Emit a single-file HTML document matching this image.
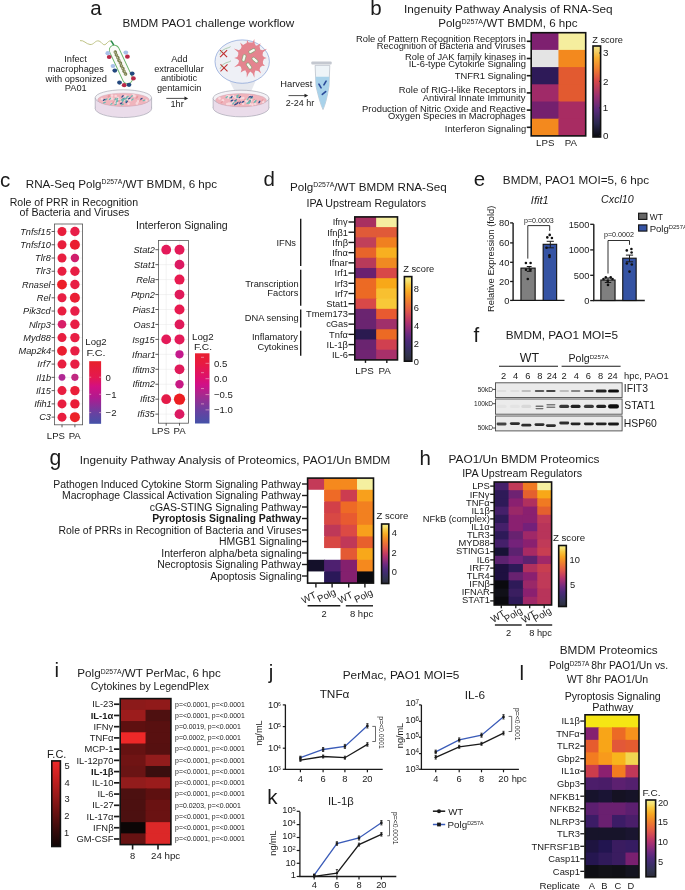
<!DOCTYPE html>
<html><head><meta charset="utf-8"><style>
html,body{margin:0;padding:0;background:#fff;}
svg{display:block;will-change:transform;}
text{font-family:"Liberation Sans",sans-serif;fill:#1a1a1a;}
</style></head><body>
<svg width="685" height="890" viewBox="0 0 685 890">
<defs><linearGradient id="ginf" x1="0" y1="1" x2="0" y2="0"><stop offset="0.000" stop-color="#000004"/><stop offset="0.100" stop-color="#160b39"/><stop offset="0.200" stop-color="#420a68"/><stop offset="0.300" stop-color="#6a176e"/><stop offset="0.400" stop-color="#932667"/><stop offset="0.500" stop-color="#bc3754"/><stop offset="0.600" stop-color="#dd513a"/><stop offset="0.700" stop-color="#f37819"/><stop offset="0.800" stop-color="#fca50a"/><stop offset="0.900" stop-color="#f6d746"/><stop offset="1.000" stop-color="#fcffa4"/></linearGradient><linearGradient id="gl" x1="0" y1="1" x2="0" y2="0"><stop offset="0.000" stop-color="#2c2c3a"/><stop offset="0.080" stop-color="#323450"/><stop offset="0.160" stop-color="#3c2e6a"/><stop offset="0.240" stop-color="#4e2a7a"/><stop offset="0.320" stop-color="#6e2a80"/><stop offset="0.400" stop-color="#962e78"/><stop offset="0.450" stop-color="#ae3270"/><stop offset="0.500" stop-color="#c23c62"/><stop offset="0.550" stop-color="#d24a56"/><stop offset="0.600" stop-color="#e05a48"/><stop offset="0.670" stop-color="#ea7038"/><stop offset="0.750" stop-color="#f28c28"/><stop offset="0.820" stop-color="#f8a822"/><stop offset="0.900" stop-color="#f8c840"/><stop offset="0.950" stop-color="#f6e070"/><stop offset="1.000" stop-color="#f5f08a"/></linearGradient><linearGradient id="gb" x1="0" y1="1" x2="0" y2="0"><stop offset="0.000" stop-color="#0a0a10"/><stop offset="0.150" stop-color="#2a2850"/><stop offset="0.300" stop-color="#5a2a7a"/><stop offset="0.450" stop-color="#9a3070"/><stop offset="0.620" stop-color="#d84848"/><stop offset="0.750" stop-color="#f08030"/><stop offset="0.870" stop-color="#f8b030"/><stop offset="1.000" stop-color="#f0e890"/></linearGradient><linearGradient id="gi" x1="0" y1="1" x2="0" y2="0"><stop offset="0.000" stop-color="#100606"/><stop offset="0.200" stop-color="#3a0c0c"/><stop offset="0.400" stop-color="#6a1212"/><stop offset="0.600" stop-color="#9a1a1a"/><stop offset="0.800" stop-color="#c82020"/><stop offset="1.000" stop-color="#ee2a2a"/></linearGradient><linearGradient id="gc1" x1="0" y1="1" x2="0" y2="0"><stop offset="0.000" stop-color="#4452a8"/><stop offset="0.180" stop-color="#6a40a0"/><stop offset="0.420" stop-color="#b01a90"/><stop offset="0.600" stop-color="#d41080"/><stop offset="0.740" stop-color="#e41850"/><stop offset="1.000" stop-color="#e8202a"/></linearGradient><linearGradient id="gc2" x1="0" y1="1" x2="0" y2="0"><stop offset="0.000" stop-color="#4452a8"/><stop offset="0.190" stop-color="#6a40a0"/><stop offset="0.410" stop-color="#a8288e"/><stop offset="0.550" stop-color="#d01088"/><stop offset="0.640" stop-color="#dc1070"/><stop offset="0.860" stop-color="#e81a40"/><stop offset="1.000" stop-color="#e82030"/></linearGradient><filter id="blur1" x="-50%" y="-50%" width="200%" height="200%"><feGaussianBlur stdDeviation="0.7"/></filter><filter id="blur2" x="-50%" y="-50%" width="200%" height="200%"><feGaussianBlur stdDeviation="0.35"/></filter></defs>
<rect width="685" height="890" fill="#fff"/>
<text x="90.28" y="14.90" font-size="20.50">a</text>
<text x="370.17" y="15.00" font-size="20.50">b</text>
<text x="-0.02" y="187.00" font-size="20.50">c</text>
<text x="263.48" y="186.40" font-size="20.50">d</text>
<text x="473.68" y="185.80" font-size="20.50">e</text>
<text x="473.49" y="341.50" font-size="20.50">f</text>
<text x="49.45" y="464.90" font-size="21.20">g</text>
<text x="419.46" y="465.00" font-size="20.50">h</text>
<text x="54.47" y="676.50" font-size="20.50">i</text>
<text x="268.71" y="679.00" font-size="20.50">j</text>
<text x="267.17" y="804.10" font-size="20.50">k</text>
<text x="519.57" y="679.70" font-size="20.50">l</text>
<text x="122.56" y="27.10" font-size="11.72">BMDM PAO1 challenge workflow</text>
<text x="64.20" y="62.00" font-size="9.25">Infect</text>
<text x="47.73" y="72.00" font-size="9.25">macrophages</text>
<text x="45.61" y="81.90" font-size="9.25">with opsonized</text>
<text x="64.78" y="91.30" font-size="9.25">PA01</text>
<text x="171.21" y="61.90" font-size="9.20">Add</text>
<text x="154.19" y="71.50" font-size="9.20">extracellular</text>
<text x="160.88" y="81.40" font-size="9.20">antibiotic</text>
<text x="156.97" y="91.30" font-size="9.20">gentamicin</text>
<text x="170.50" y="107.40" font-size="9.20">1hr</text>
<line x1="166.30" y1="98.40" x2="185.00" y2="98.40" stroke="#222" stroke-width="0.8"/>
<path d="M184.5,96.6 L188.2,98.4 L184.5,100.2 Z" fill="#222" stroke="none" stroke-width="0"/>
<text x="280.25" y="87.30" font-size="9.32">Harvest</text>
<text x="285.75" y="105.80" font-size="9.03">2-24 hr</text>
<line x1="288.50" y1="95.60" x2="305.00" y2="95.60" stroke="#222" stroke-width="0.8"/>
<path d="M304.5,93.8 L308.2,95.6 L304.5,97.4 Z" fill="#222" stroke="none" stroke-width="0"/>
<ellipse cx="123.4" cy="108.5" rx="28.2" ry="9" fill="#eadcea" stroke="#9a9aa8" stroke-width="0.6"/>
<rect x="95.2" y="97.8" width="56.4" height="10.700000000000003" fill="#eadcea"/>
<line x1="95.20" y1="97.80" x2="95.20" y2="108.50" stroke="#9a9aa8" stroke-width="0.6"/>
<line x1="151.60" y1="97.80" x2="151.60" y2="108.50" stroke="#9a9aa8" stroke-width="0.6"/>
<ellipse cx="123.4" cy="97.8" rx="28.2" ry="8" fill="#f4f2f6" stroke="#9a9aa8" stroke-width="0.6"/>
<ellipse cx="123.4" cy="99.8" rx="25.7" ry="6.6" fill="#f0b4bc" stroke="#c8a0b0" stroke-width="0.4"/>
<circle cx="130.2" cy="100.3" r="1.3" fill="#f8d8dc"/>
<circle cx="116.8" cy="100.7" r="1.3" fill="#f8d8dc"/>
<circle cx="127.2" cy="99.2" r="1.3" fill="#f8d8dc"/>
<circle cx="109.8" cy="99.1" r="1.3" fill="#f8d8dc"/>
<circle cx="129.2" cy="98.1" r="1.3" fill="#f8d8dc"/>
<circle cx="116.1" cy="102.4" r="1.3" fill="#f8d8dc"/>
<circle cx="123.4" cy="100.0" r="1.3" fill="#f8d8dc"/>
<circle cx="116.8" cy="100.4" r="1.3" fill="#f8d8dc"/>
<circle cx="118.2" cy="99.0" r="1.3" fill="#f8d8dc"/>
<circle cx="116.9" cy="103.0" r="1.3" fill="#f8d8dc"/>
<circle cx="129.5" cy="98.9" r="1.3" fill="#f8d8dc"/>
<circle cx="136.9" cy="103.4" r="1.3" fill="#f8d8dc"/>
<circle cx="146.3" cy="100.5" r="1.3" fill="#f8d8dc"/>
<circle cx="112.2" cy="98.6" r="1.3" fill="#f8d8dc"/>
<circle cx="134.5" cy="95.9" r="1.3" fill="#f8d8dc"/>
<circle cx="111.4" cy="103.7" r="1.3" fill="#f8d8dc"/>
<circle cx="128.5" cy="103.7" r="1.3" fill="#f8d8dc"/>
<circle cx="101.9" cy="99.0" r="1.3" fill="#f8d8dc"/>
<circle cx="117.3" cy="102.8" r="1.3" fill="#f8d8dc"/>
<circle cx="125.5" cy="96.1" r="1.3" fill="#f8d8dc"/>
<circle cx="115.7" cy="96.0" r="1.3" fill="#f8d8dc"/>
<circle cx="112.0" cy="95.6" r="1.3" fill="#f8d8dc"/>
<circle cx="103.7" cy="100.2" r="1.3" fill="#f8d8dc"/>
<circle cx="120.4" cy="100.5" r="1.3" fill="#f8d8dc"/>
<circle cx="123.7" cy="97.6" r="1.3" fill="#f8d8dc"/>
<circle cx="133.3" cy="95.3" r="1.3" fill="#f8d8dc"/>
<circle cx="117.9" cy="98.0" r="1.3" fill="#f8d8dc"/>
<circle cx="115.5" cy="102.6" r="1.3" fill="#f8d8dc"/>
<circle cx="138.1" cy="101.4" r="1.3" fill="#f8d8dc"/>
<circle cx="110.8" cy="98.5" r="1.3" fill="#f8d8dc"/>
<ellipse cx="126.0" cy="101.2" rx="1.6" ry="0.7" transform="rotate(-59 126.0 101.2)" fill="#6ab8b0"/>
<ellipse cx="116.8" cy="101.7" rx="1.6" ry="0.7" transform="rotate(-40 116.8 101.7)" fill="#6ab8b0"/>
<ellipse cx="125.9" cy="98.7" rx="1.6" ry="0.7" transform="rotate(-20 125.9 98.7)" fill="#6ab8b0"/>
<ellipse cx="141.3" cy="98.9" rx="1.6" ry="0.7" transform="rotate(-38 141.3 98.9)" fill="#2a4a8a"/>
<ellipse cx="132.4" cy="99.6" rx="1.6" ry="0.7" transform="rotate(-42 132.4 99.6)" fill="#6ab8b0"/>
<ellipse cx="123.4" cy="98.7" rx="1.6" ry="0.7" transform="rotate(-42 123.4 98.7)" fill="#2a4a8a"/>
<ellipse cx="144.0" cy="100.4" rx="1.6" ry="0.7" transform="rotate(-22 144.0 100.4)" fill="#6ab8b0"/>
<ellipse cx="123.1" cy="99.7" rx="1.6" ry="0.7" transform="rotate(-57 123.1 99.7)" fill="#6ab8b0"/>
<ellipse cx="119.2" cy="101.0" rx="1.6" ry="0.7" transform="rotate(-24 119.2 101.0)" fill="#e89aa0"/>
<ellipse cx="127.4" cy="96.9" rx="1.6" ry="0.7" transform="rotate(-32 127.4 96.9)" fill="#6ab8b0"/>
<ellipse cx="104.4" cy="102.6" rx="1.6" ry="0.7" transform="rotate(-22 104.4 102.6)" fill="#6ab8b0"/>
<ellipse cx="140.4" cy="100.6" rx="1.6" ry="0.7" transform="rotate(-46 140.4 100.6)" fill="#e89aa0"/>
<ellipse cx="108.7" cy="96.0" rx="1.6" ry="0.7" transform="rotate(-57 108.7 96.0)" fill="#e89aa0"/>
<ellipse cx="129.4" cy="98.4" rx="1.6" ry="0.7" transform="rotate(-30 129.4 98.4)" fill="#2a4a8a"/>
<ellipse cx="131.7" cy="96.3" rx="1.6" ry="0.7" transform="rotate(-45 131.7 96.3)" fill="#6ab8b0"/>
<ellipse cx="115.7" cy="104.3" rx="1.6" ry="0.7" transform="rotate(-29 115.7 104.3)" fill="#6ab8b0"/>
<ellipse cx="117.1" cy="100.9" rx="1.6" ry="0.7" transform="rotate(-39 117.1 100.9)" fill="#6ab8b0"/>
<ellipse cx="109.1" cy="96.5" rx="1.6" ry="0.7" transform="rotate(-43 109.1 96.5)" fill="#e89aa0"/>
<ellipse cx="122.5" cy="96.4" rx="1.6" ry="0.7" transform="rotate(-46 122.5 96.4)" fill="#2a4a8a"/>
<ellipse cx="137.2" cy="96.7" rx="1.6" ry="0.7" transform="rotate(-48 137.2 96.7)" fill="#e89aa0"/>
<ellipse cx="124.4" cy="99.0" rx="1.6" ry="0.7" transform="rotate(-47 124.4 99.0)" fill="#6ab8b0"/>
<ellipse cx="106.2" cy="99.4" rx="1.6" ry="0.7" transform="rotate(-40 106.2 99.4)" fill="#6ab8b0"/>
<ellipse cx="109.9" cy="98.9" rx="1.6" ry="0.7" transform="rotate(-46 109.9 98.9)" fill="#6ab8b0"/>
<ellipse cx="121.2" cy="103.3" rx="1.6" ry="0.7" transform="rotate(-25 121.2 103.3)" fill="#2a4a8a"/>
<ellipse cx="123.0" cy="100.8" rx="1.6" ry="0.7" transform="rotate(-57 123.0 100.8)" fill="#6ab8b0"/>
<ellipse cx="126.8" cy="101.9" rx="1.6" ry="0.7" transform="rotate(-52 126.8 101.9)" fill="#2a4a8a"/>
<ellipse cx="117.2" cy="99.2" rx="1.6" ry="0.7" transform="rotate(-57 117.2 99.2)" fill="#6ab8b0"/>
<ellipse cx="115.4" cy="99.2" rx="1.6" ry="0.7" transform="rotate(-55 115.4 99.2)" fill="#6ab8b0"/>
<ellipse cx="136.7" cy="97.8" rx="1.6" ry="0.7" transform="rotate(-29 136.7 97.8)" fill="#e89aa0"/>
<ellipse cx="122.5" cy="104.4" rx="1.6" ry="0.7" transform="rotate(-25 122.5 104.4)" fill="#6ab8b0"/>
<ellipse cx="111.5" cy="103.8" rx="1.6" ry="0.7" transform="rotate(-23 111.5 103.8)" fill="#6ab8b0"/>
<ellipse cx="122.0" cy="99.6" rx="1.6" ry="0.7" transform="rotate(-36 122.0 99.6)" fill="#6ab8b0"/>
<ellipse cx="104.1" cy="99.9" rx="1.6" ry="0.7" transform="rotate(-32 104.1 99.9)" fill="#2a4a8a"/>
<ellipse cx="113.3" cy="102.4" rx="1.6" ry="0.7" transform="rotate(-47 113.3 102.4)" fill="#e89aa0"/>
<path d="M80,40.6 C84,40 86,44 90,44.5 C94,45 95,40 99,41 C102,42 103,46.5 106,44 C108,42 109,40.6 111,40.8" fill="none" stroke="#b8bc78" stroke-width="0.9"/>
<path d="M110.8,40.8 C112.5,42 113.5,44.5 114.8,47.5" fill="none" stroke="#2a8a4a" stroke-width="1.5"/>
<g transform="rotate(65 120.9 64.4)"><rect x="100.2" y="59.4" width="41.4" height="10" rx="5" fill="#fbfbf8" stroke="#6ab46a" stroke-width="0.9"/><path d="M106,64.4 q1.5,-2.2 3,0 t3,0 t3,0 t3,0 t3,0 t3,0 t3,0 t3,0 t3,0" fill="none" stroke="#7a8050" stroke-width="1.6"/><path d="M106,64.4 q1.5,2.2 3,0 t3,0 t3,0 t3,0 t3,0 t3,0 t3,0 t3,0 t3,0" fill="none" stroke="#8a9060" stroke-width="1.2"/></g>
<ellipse cx="107.8" cy="53.2" rx="2.4" ry="2.1" fill="#a8c0e8"/>
<ellipse cx="109.2" cy="57.0" rx="2.4" ry="2.1" fill="#b82848"/>
<ellipse cx="125.8" cy="52.6" rx="2.4" ry="2.1" fill="#a8c0e8"/>
<ellipse cx="127.4" cy="56.7" rx="2.4" ry="2.1" fill="#b82848"/>
<ellipse cx="113.0" cy="66.0" rx="2.4" ry="2.1" fill="#a8c0e8"/>
<ellipse cx="114.8" cy="70.6" rx="2.4" ry="2.1" fill="#23487e"/>
<ellipse cx="132.2" cy="73.6" rx="2.4" ry="2.1" fill="#23487e"/>
<ellipse cx="133.4" cy="78.4" rx="2.4" ry="2.1" fill="#b82848"/>
<ellipse cx="119.5" cy="82.6" rx="2.4" ry="2.1" fill="#23487e"/>
<ellipse cx="124.2" cy="85.2" rx="2.4" ry="2.1" fill="#b82848"/>
<ellipse cx="129.0" cy="84.8" rx="2.4" ry="2.1" fill="#23487e"/>
<path d="M229,80 L256,80 L250,94 L236,94 Z" fill="#e6e8ee" stroke="none" stroke-width="0"/>
<ellipse cx="242.2" cy="61.6" rx="27.2" ry="21.7" fill="#eef0f6" stroke="#7090d0" stroke-width="0.6"/>
<path d="M262.5,55.2 L263.9,56.9 L266.7,58.0 L263.9,59.1 L262.9,61.6 L263.0,63.8 L264.9,66.1 L262.2,65.8 L260.2,67.4 L259.6,69.5 L261.1,73.4 L258.1,70.9 L255.4,70.4 L254.5,73.0 L254.4,77.8 L252.6,73.5 L250.3,71.6 L248.6,73.5 L246.8,77.5 L246.7,73.0 L245.3,70.2 L243.1,70.9 L240.7,72.6 L241.6,69.5 L240.8,66.7 L239.0,65.8 L234.1,67.3 L238.2,63.8 L239.1,60.8 L237.3,59.1 L234.2,58.0 L237.3,56.9 L238.3,54.4 L238.2,52.2 L233.8,48.5 L239.0,50.2 L241.0,48.5 L241.6,46.5 L240.1,42.5 L243.1,45.1 L245.1,43.8 L246.7,43.0 L247.1,39.9 L248.6,42.5 L250.9,42.6 L252.6,42.5 L254.3,39.0 L254.5,43.0 L255.9,45.7 L258.1,45.1 L260.6,43.3 L259.6,46.5 L260.2,49.4 L262.2,50.2 L267.1,48.7 L263.0,52.2 Z" fill="#e4848f" stroke="none" stroke-width="0"/>
<rect x="240.5" y="56.5" width="7" height="3" rx="1.5" fill="#f8f8f0" stroke="#5a9a5a" stroke-width="0.5" transform="rotate(-75 244 58)"/>
<rect x="248.5" y="49.5" width="7" height="3" rx="1.5" fill="#f8f8f0" stroke="#5a9a5a" stroke-width="0.5" transform="rotate(-30 252 51)"/>
<rect x="251.5" y="58.5" width="7" height="3" rx="1.5" fill="#f8f8f0" stroke="#5a9a5a" stroke-width="0.5" transform="rotate(40 255 60)"/>
<rect x="245.5" y="64.5" width="7" height="3" rx="1.5" fill="#f8f8f0" stroke="#5a9a5a" stroke-width="0.5" transform="rotate(55 249 66)"/>
<line x1="220.10" y1="50.10" x2="227.10" y2="57.10" stroke="#c03030" stroke-width="1.1"/>
<line x1="220.10" y1="57.10" x2="227.10" y2="50.10" stroke="#c03030" stroke-width="1.1"/>
<path d="M219.6,54.6 q2,-5 6,-6 t5,-2" fill="none" stroke="#6aa86a" stroke-width="0.5"/>
<line x1="220.50" y1="64.30" x2="227.50" y2="71.30" stroke="#c03030" stroke-width="1.1"/>
<line x1="220.50" y1="71.30" x2="227.50" y2="64.30" stroke="#c03030" stroke-width="1.1"/>
<path d="M220,68.8 q2,-5 6,-6 t5,-2" fill="none" stroke="#6aa86a" stroke-width="0.5"/>
<ellipse cx="241.0" cy="107.8" rx="27.9" ry="9" fill="#eadcea" stroke="#9a9aa8" stroke-width="0.6"/>
<rect x="213.1" y="98.2" width="55.8" height="9.599999999999994" fill="#eadcea"/>
<line x1="213.10" y1="98.20" x2="213.10" y2="107.80" stroke="#9a9aa8" stroke-width="0.6"/>
<line x1="268.90" y1="98.20" x2="268.90" y2="107.80" stroke="#9a9aa8" stroke-width="0.6"/>
<ellipse cx="241.0" cy="98.2" rx="27.9" ry="8" fill="#f4f2f6" stroke="#9a9aa8" stroke-width="0.6"/>
<ellipse cx="241.0" cy="100.2" rx="25.4" ry="6.6" fill="#f0b4bc" stroke="#c8a0b0" stroke-width="0.4"/>
<circle cx="233.1" cy="96.0" r="1.3" fill="#f8d8dc"/>
<circle cx="228.8" cy="103.7" r="1.3" fill="#f8d8dc"/>
<circle cx="238.2" cy="97.7" r="1.3" fill="#f8d8dc"/>
<circle cx="230.6" cy="97.1" r="1.3" fill="#f8d8dc"/>
<circle cx="247.2" cy="102.5" r="1.3" fill="#f8d8dc"/>
<circle cx="239.5" cy="103.3" r="1.3" fill="#f8d8dc"/>
<circle cx="255.3" cy="103.9" r="1.3" fill="#f8d8dc"/>
<circle cx="252.4" cy="104.6" r="1.3" fill="#f8d8dc"/>
<circle cx="228.4" cy="97.7" r="1.3" fill="#f8d8dc"/>
<circle cx="222.9" cy="100.2" r="1.3" fill="#f8d8dc"/>
<circle cx="231.6" cy="99.7" r="1.3" fill="#f8d8dc"/>
<circle cx="263.1" cy="101.9" r="1.3" fill="#f8d8dc"/>
<circle cx="228.8" cy="96.3" r="1.3" fill="#f8d8dc"/>
<circle cx="240.9" cy="98.2" r="1.3" fill="#f8d8dc"/>
<circle cx="250.1" cy="104.0" r="1.3" fill="#f8d8dc"/>
<circle cx="230.8" cy="103.6" r="1.3" fill="#f8d8dc"/>
<circle cx="246.0" cy="100.5" r="1.3" fill="#f8d8dc"/>
<circle cx="254.0" cy="100.3" r="1.3" fill="#f8d8dc"/>
<circle cx="219.5" cy="98.4" r="1.3" fill="#f8d8dc"/>
<circle cx="229.0" cy="103.9" r="1.3" fill="#f8d8dc"/>
<circle cx="243.2" cy="98.1" r="1.3" fill="#f8d8dc"/>
<circle cx="243.1" cy="103.8" r="1.3" fill="#f8d8dc"/>
<circle cx="251.4" cy="100.2" r="1.3" fill="#f8d8dc"/>
<circle cx="233.4" cy="102.4" r="1.3" fill="#f8d8dc"/>
<circle cx="235.5" cy="100.5" r="1.3" fill="#f8d8dc"/>
<circle cx="235.6" cy="97.2" r="1.3" fill="#f8d8dc"/>
<circle cx="227.3" cy="104.0" r="1.3" fill="#f8d8dc"/>
<circle cx="249.9" cy="96.3" r="1.3" fill="#f8d8dc"/>
<circle cx="227.4" cy="96.3" r="1.3" fill="#f8d8dc"/>
<circle cx="246.9" cy="101.4" r="1.3" fill="#f8d8dc"/>
<ellipse cx="253.7" cy="99.8" rx="1.6" ry="0.7" transform="rotate(-23 253.7 99.8)" fill="#e89aa0"/>
<ellipse cx="230.4" cy="97.5" rx="1.6" ry="0.7" transform="rotate(-32 230.4 97.5)" fill="#6ab8b0"/>
<ellipse cx="231.6" cy="97.2" rx="1.6" ry="0.7" transform="rotate(-57 231.6 97.2)" fill="#2a4a8a"/>
<ellipse cx="235.6" cy="100.3" rx="1.6" ry="0.7" transform="rotate(-35 235.6 100.3)" fill="#2a4a8a"/>
<ellipse cx="255.6" cy="101.2" rx="1.6" ry="0.7" transform="rotate(-57 255.6 101.2)" fill="#6ab8b0"/>
<ellipse cx="221.7" cy="102.3" rx="1.6" ry="0.7" transform="rotate(-42 221.7 102.3)" fill="#e89aa0"/>
<ellipse cx="249.6" cy="96.8" rx="1.6" ry="0.7" transform="rotate(-27 249.6 96.8)" fill="#2a4a8a"/>
<ellipse cx="240.3" cy="104.3" rx="1.6" ry="0.7" transform="rotate(-43 240.3 104.3)" fill="#e89aa0"/>
<ellipse cx="226.7" cy="97.1" rx="1.6" ry="0.7" transform="rotate(-39 226.7 97.1)" fill="#6ab8b0"/>
<ellipse cx="239.8" cy="97.1" rx="1.6" ry="0.7" transform="rotate(-34 239.8 97.1)" fill="#2a4a8a"/>
<ellipse cx="259.4" cy="102.0" rx="1.6" ry="0.7" transform="rotate(-55 259.4 102.0)" fill="#2a4a8a"/>
<ellipse cx="249.8" cy="101.1" rx="1.6" ry="0.7" transform="rotate(-40 249.8 101.1)" fill="#2a4a8a"/>
<ellipse cx="237.9" cy="96.9" rx="1.6" ry="0.7" transform="rotate(-46 237.9 96.9)" fill="#6ab8b0"/>
<ellipse cx="235.7" cy="101.3" rx="1.6" ry="0.7" transform="rotate(-41 235.7 101.3)" fill="#6ab8b0"/>
<ellipse cx="247.7" cy="99.1" rx="1.6" ry="0.7" transform="rotate(-50 247.7 99.1)" fill="#6ab8b0"/>
<ellipse cx="262.4" cy="100.3" rx="1.6" ry="0.7" transform="rotate(-48 262.4 100.3)" fill="#e89aa0"/>
<ellipse cx="236.1" cy="102.8" rx="1.6" ry="0.7" transform="rotate(-45 236.1 102.8)" fill="#e89aa0"/>
<ellipse cx="249.6" cy="102.6" rx="1.6" ry="0.7" transform="rotate(-54 249.6 102.6)" fill="#6ab8b0"/>
<ellipse cx="251.8" cy="97.9" rx="1.6" ry="0.7" transform="rotate(-27 251.8 97.9)" fill="#6ab8b0"/>
<ellipse cx="242.9" cy="101.9" rx="1.6" ry="0.7" transform="rotate(-30 242.9 101.9)" fill="#2a4a8a"/>
<ellipse cx="239.8" cy="102.7" rx="1.6" ry="0.7" transform="rotate(-55 239.8 102.7)" fill="#2a4a8a"/>
<ellipse cx="251.6" cy="97.0" rx="1.6" ry="0.7" transform="rotate(-44 251.6 97.0)" fill="#2a4a8a"/>
<ellipse cx="244.7" cy="99.7" rx="1.6" ry="0.7" transform="rotate(-43 244.7 99.7)" fill="#e89aa0"/>
<ellipse cx="233.4" cy="103.3" rx="1.6" ry="0.7" transform="rotate(-51 233.4 103.3)" fill="#6ab8b0"/>
<ellipse cx="239.0" cy="101.7" rx="1.6" ry="0.7" transform="rotate(-50 239.0 101.7)" fill="#e89aa0"/>
<ellipse cx="237.4" cy="103.1" rx="1.6" ry="0.7" transform="rotate(-53 237.4 103.1)" fill="#2a4a8a"/>
<ellipse cx="231.9" cy="100.5" rx="1.6" ry="0.7" transform="rotate(-26 231.9 100.5)" fill="#2a4a8a"/>
<ellipse cx="237.3" cy="96.6" rx="1.6" ry="0.7" transform="rotate(-23 237.3 96.6)" fill="#6ab8b0"/>
<ellipse cx="254.9" cy="101.8" rx="1.6" ry="0.7" transform="rotate(-41 254.9 101.8)" fill="#6ab8b0"/>
<ellipse cx="237.8" cy="95.3" rx="1.6" ry="0.7" transform="rotate(-21 237.8 95.3)" fill="#6ab8b0"/>
<ellipse cx="235.5" cy="104.4" rx="1.6" ry="0.7" transform="rotate(-31 235.5 104.4)" fill="#2a4a8a"/>
<ellipse cx="239.2" cy="95.9" rx="1.6" ry="0.7" transform="rotate(-46 239.2 95.9)" fill="#e89aa0"/>
<ellipse cx="247.8" cy="103.0" rx="1.6" ry="0.7" transform="rotate(-22 247.8 103.0)" fill="#6ab8b0"/>
<ellipse cx="249.7" cy="101.0" rx="1.6" ry="0.7" transform="rotate(-47 249.7 101.0)" fill="#6ab8b0"/>
<path d="M315.1,65.4 L329.8,65.4 L329,86 Q326.5,102 323,109.6 Q319.5,102 316,86 Z" fill="#eef4f8" stroke="#a8b0bc" stroke-width="0.6"/>
<path d="M315.6,76.8 L329.3,76.8 L329,86 Q326.5,102 323,109.2 Q319.5,102 316,86 Z" fill="#a9d2ea" stroke="none" stroke-width="0"/>
<rect x="311.30" y="61.60" width="20.40" height="3.00" fill="#c4c8d0" rx="1"/>
<rect x="317" y="85.2" width="6" height="1.6" rx="0.8" fill="#2a4a9a" transform="rotate(60 320 86)"/>
<rect x="322" y="82.2" width="6" height="1.6" rx="0.8" fill="#2a4a9a" transform="rotate(-60 325 83)"/>
<rect x="321" y="92.2" width="6" height="1.6" rx="0.8" fill="#2a4a9a" transform="rotate(-40 324 93)"/>
<text x="404.04" y="13.40" font-size="11.77">Ingenuity Pathway Analysis of RNA-Seq</text>
<text x="438.17" y="27.00" font-size="11.60"><tspan>Polg</tspan><tspan font-size="7.10" dy="-3.13">D257A</tspan><tspan dy="3.13">/WT BMDM, 6 hpc</tspan></text>
<text x="355.98" y="41.80" font-size="9.40">Role of Pattern Recognition Receptors in</text>
<text x="376.76" y="48.80" font-size="9.40">Recognition of Bacteria and Viruses</text>
<text x="405.10" y="60.10" font-size="9.40">Role of JAK family kinases in</text>
<text x="408.76" y="67.40" font-size="9.40">IL-6-type Cytokine Signaling</text>
<text x="454.73" y="79.00" font-size="9.40">TNFR1 Signaling</text>
<text x="398.85" y="93.40" font-size="9.40">Role of RIG-I-like Receptors in</text>
<text x="422.77" y="100.70" font-size="9.40">Antiviral Innate Immunity</text>
<text x="362.09" y="111.50" font-size="9.40">Production of Nitric Oxide and Reactive</text>
<text x="388.08" y="119.00" font-size="9.40">Oxygen Species in Macrophages</text>
<text x="444.81" y="131.70" font-size="9.40">Interferon Signaling</text>
<rect x="531.20" y="32.70" width="28.25" height="18.20" fill="#7e2070"/>
<rect x="558.45" y="32.70" width="27.25" height="18.20" fill="#f5ee9e"/>
<rect x="531.20" y="49.90" width="28.25" height="18.20" fill="#e4e4e4"/>
<rect x="558.45" y="49.90" width="27.25" height="18.20" fill="#f3891e"/>
<rect x="531.20" y="67.10" width="28.25" height="18.20" fill="#2e1a58"/>
<rect x="558.45" y="67.10" width="27.25" height="18.20" fill="#e25a30"/>
<rect x="531.20" y="84.30" width="28.25" height="18.20" fill="#a02a68"/>
<rect x="558.45" y="84.30" width="27.25" height="18.20" fill="#e25a30"/>
<rect x="531.20" y="101.50" width="28.25" height="18.20" fill="#74206e"/>
<rect x="558.45" y="101.50" width="27.25" height="18.20" fill="#a82c62"/>
<rect x="531.20" y="118.70" width="28.25" height="17.20" fill="#f3891e"/>
<rect x="558.45" y="118.70" width="27.25" height="17.20" fill="#a82c62"/>
<rect x="531.20" y="32.70" width="54.50" height="103.20" fill="none" stroke="#111" stroke-width="1.6"/>
<line x1="526.80" y1="41.30" x2="531.00" y2="41.30" stroke="#1a1a1a" stroke-width="1.6"/>
<line x1="526.80" y1="58.50" x2="531.00" y2="58.50" stroke="#1a1a1a" stroke-width="1.6"/>
<line x1="526.80" y1="75.70" x2="531.00" y2="75.70" stroke="#1a1a1a" stroke-width="1.6"/>
<line x1="526.80" y1="92.90" x2="531.00" y2="92.90" stroke="#1a1a1a" stroke-width="1.6"/>
<line x1="526.80" y1="110.10" x2="531.00" y2="110.10" stroke="#1a1a1a" stroke-width="1.6"/>
<line x1="526.80" y1="127.30" x2="531.00" y2="127.30" stroke="#1a1a1a" stroke-width="1.6"/>
<text x="536.06" y="146.40" font-size="9.70">LPS</text>
<text x="564.70" y="146.40" font-size="9.70">PA</text>
<rect x="593.00" y="46.00" width="7.60" height="91.00" fill="url(#gb)" stroke="#111" stroke-width="1.6"/>
<text x="592.22" y="43.30" font-size="9.20">Z score</text>
<text x="603.11" y="56.20" font-size="9.80">3</text>
<line x1="599.00" y1="53.00" x2="600.60" y2="53.00" stroke="#222" stroke-width="1"/>
<text x="603.01" y="84.50" font-size="9.80">2</text>
<line x1="599.00" y1="81.30" x2="600.60" y2="81.30" stroke="#222" stroke-width="1"/>
<text x="602.76" y="111.10" font-size="9.80">1</text>
<line x1="599.00" y1="107.90" x2="600.60" y2="107.90" stroke="#222" stroke-width="1"/>
<text x="603.11" y="138.80" font-size="9.80">0</text>
<line x1="599.00" y1="135.60" x2="600.60" y2="135.60" stroke="#222" stroke-width="1"/>
<text x="25.77" y="187.50" font-size="11.65"><tspan>RNA-Seq Polg</tspan><tspan font-size="6.80" dy="-3.15">D257A</tspan><tspan dy="3.15">/WT BMDM, 6 hpc</tspan></text>
<text x="9.66" y="206.00" font-size="10.56">Role of PRR in Recognition</text>
<text x="19.57" y="216.00" font-size="10.65">of Bacteria and Viruses</text>
<text x="135.95" y="229.40" font-size="10.59">Interferon Signaling</text>
<line x1="54.50" y1="231.50" x2="82.60" y2="231.50" stroke="#e6e6e6" stroke-width="0.5"/>
<line x1="54.50" y1="244.76" x2="82.60" y2="244.76" stroke="#e6e6e6" stroke-width="0.5"/>
<line x1="54.50" y1="258.02" x2="82.60" y2="258.02" stroke="#e6e6e6" stroke-width="0.5"/>
<line x1="54.50" y1="271.28" x2="82.60" y2="271.28" stroke="#e6e6e6" stroke-width="0.5"/>
<line x1="54.50" y1="284.54" x2="82.60" y2="284.54" stroke="#e6e6e6" stroke-width="0.5"/>
<line x1="54.50" y1="297.80" x2="82.60" y2="297.80" stroke="#e6e6e6" stroke-width="0.5"/>
<line x1="54.50" y1="311.06" x2="82.60" y2="311.06" stroke="#e6e6e6" stroke-width="0.5"/>
<line x1="54.50" y1="324.32" x2="82.60" y2="324.32" stroke="#e6e6e6" stroke-width="0.5"/>
<line x1="54.50" y1="337.58" x2="82.60" y2="337.58" stroke="#e6e6e6" stroke-width="0.5"/>
<line x1="54.50" y1="350.84" x2="82.60" y2="350.84" stroke="#e6e6e6" stroke-width="0.5"/>
<line x1="54.50" y1="364.10" x2="82.60" y2="364.10" stroke="#e6e6e6" stroke-width="0.5"/>
<line x1="54.50" y1="377.36" x2="82.60" y2="377.36" stroke="#e6e6e6" stroke-width="0.5"/>
<line x1="54.50" y1="390.62" x2="82.60" y2="390.62" stroke="#e6e6e6" stroke-width="0.5"/>
<line x1="54.50" y1="403.88" x2="82.60" y2="403.88" stroke="#e6e6e6" stroke-width="0.5"/>
<line x1="54.50" y1="417.14" x2="82.60" y2="417.14" stroke="#e6e6e6" stroke-width="0.5"/>
<line x1="62.00" y1="224.00" x2="62.00" y2="424.80" stroke="#e6e6e6" stroke-width="0.5"/>
<line x1="74.90" y1="224.00" x2="74.90" y2="424.80" stroke="#e6e6e6" stroke-width="0.5"/>
<rect x="54.5" y="224.0" width="28.099999999999994" height="200.8" fill="none" stroke="#555" stroke-width="0.8"/>
<text x="20.17" y="234.70" font-size="9.20" font-style="italic">Tnfsf15</text>
<line x1="51.60" y1="231.50" x2="54.50" y2="231.50" stroke="#333" stroke-width="0.8"/>
<circle cx="62.00" cy="231.50" r="4.50" fill="#e81e3c"/>
<circle cx="74.90" cy="231.50" r="4.70" fill="#e81e48"/>
<text x="20.26" y="247.96" font-size="9.20" font-style="italic">Tnfsf10</text>
<line x1="51.60" y1="244.76" x2="54.50" y2="244.76" stroke="#333" stroke-width="0.8"/>
<circle cx="62.00" cy="244.76" r="4.50" fill="#e81e3c"/>
<circle cx="74.90" cy="244.76" r="5.00" fill="#ea1e30"/>
<text x="35.12" y="261.22" font-size="9.20" font-style="italic">Tlr8</text>
<line x1="51.60" y1="258.02" x2="54.50" y2="258.02" stroke="#333" stroke-width="0.8"/>
<circle cx="62.00" cy="258.02" r="4.50" fill="#e81e40"/>
<circle cx="74.90" cy="258.02" r="4.20" fill="#d01e6c"/>
<text x="35.12" y="274.48" font-size="9.20" font-style="italic">Tlr3</text>
<line x1="51.60" y1="271.28" x2="54.50" y2="271.28" stroke="#333" stroke-width="0.8"/>
<circle cx="62.00" cy="271.28" r="4.50" fill="#e81e40"/>
<circle cx="74.90" cy="271.28" r="4.70" fill="#e81e44"/>
<text x="22.06" y="287.74" font-size="9.20" font-style="italic">Rnasel</text>
<line x1="51.60" y1="284.54" x2="54.50" y2="284.54" stroke="#333" stroke-width="0.8"/>
<circle cx="62.00" cy="284.54" r="4.90" fill="#ec1e28"/>
<circle cx="74.90" cy="284.54" r="4.70" fill="#e81e44"/>
<text x="36.87" y="301.00" font-size="9.20" font-style="italic">Rel</text>
<line x1="51.60" y1="297.80" x2="54.50" y2="297.80" stroke="#333" stroke-width="0.8"/>
<circle cx="62.00" cy="297.80" r="4.50" fill="#e81e44"/>
<circle cx="74.90" cy="297.80" r="5.00" fill="#ea1e34"/>
<text x="23.02" y="314.26" font-size="9.20" font-style="italic">Pik3cd</text>
<line x1="51.60" y1="311.06" x2="54.50" y2="311.06" stroke="#333" stroke-width="0.8"/>
<circle cx="62.00" cy="311.06" r="4.50" fill="#e81e40"/>
<circle cx="74.90" cy="311.06" r="4.70" fill="#e81e48"/>
<text x="28.96" y="327.52" font-size="9.20" font-style="italic">Nlrp3</text>
<line x1="51.60" y1="324.32" x2="54.50" y2="324.32" stroke="#333" stroke-width="0.8"/>
<circle cx="62.00" cy="324.32" r="4.30" fill="#d81e68"/>
<circle cx="74.90" cy="324.32" r="4.70" fill="#e81e44"/>
<text x="23.35" y="340.78" font-size="9.20" font-style="italic">Myd88</text>
<line x1="51.60" y1="337.58" x2="54.50" y2="337.58" stroke="#333" stroke-width="0.8"/>
<circle cx="62.00" cy="337.58" r="4.50" fill="#e81e40"/>
<circle cx="74.90" cy="337.58" r="4.70" fill="#e81e44"/>
<text x="18.52" y="354.04" font-size="9.20" font-style="italic">Map2k4</text>
<line x1="51.60" y1="350.84" x2="54.50" y2="350.84" stroke="#333" stroke-width="0.8"/>
<circle cx="62.00" cy="350.84" r="4.90" fill="#ea1e30"/>
<circle cx="74.90" cy="350.84" r="4.70" fill="#e81e44"/>
<text x="37.33" y="367.30" font-size="9.20" font-style="italic">Irf7</text>
<line x1="51.60" y1="364.10" x2="54.50" y2="364.10" stroke="#333" stroke-width="0.8"/>
<circle cx="62.00" cy="364.10" r="4.50" fill="#e81e40"/>
<circle cx="74.90" cy="364.10" r="4.70" fill="#e81e44"/>
<text x="36.36" y="380.56" font-size="9.20" font-style="italic">Il1b</text>
<line x1="51.60" y1="377.36" x2="54.50" y2="377.36" stroke="#333" stroke-width="0.8"/>
<circle cx="62.00" cy="377.36" r="3.40" fill="#b02894"/>
<circle cx="74.90" cy="377.36" r="3.60" fill="#c02880"/>
<text x="36.04" y="393.82" font-size="9.20" font-style="italic">Il15</text>
<line x1="51.60" y1="390.62" x2="54.50" y2="390.62" stroke="#333" stroke-width="0.8"/>
<circle cx="62.00" cy="390.62" r="4.50" fill="#e81e40"/>
<circle cx="74.90" cy="390.62" r="4.70" fill="#ea1e38"/>
<text x="34.29" y="407.08" font-size="9.20" font-style="italic">Ifih1</text>
<line x1="51.60" y1="403.88" x2="54.50" y2="403.88" stroke="#333" stroke-width="0.8"/>
<circle cx="62.00" cy="403.88" r="4.50" fill="#e81e40"/>
<circle cx="74.90" cy="403.88" r="4.70" fill="#ea1e38"/>
<text x="39.22" y="420.34" font-size="9.20" font-style="italic">C3</text>
<line x1="51.60" y1="417.14" x2="54.50" y2="417.14" stroke="#333" stroke-width="0.8"/>
<circle cx="62.00" cy="417.14" r="4.50" fill="#e81e40"/>
<circle cx="74.90" cy="417.14" r="5.00" fill="#ec2228"/>
<line x1="62.00" y1="424.80" x2="62.00" y2="427.30" stroke="#333" stroke-width="0.8"/>
<line x1="74.90" y1="424.80" x2="74.90" y2="427.30" stroke="#333" stroke-width="0.8"/>
<text x="46.86" y="439.00" font-size="9.60">LPS</text>
<text x="68.67" y="439.00" font-size="9.60">PA</text>
<text x="85.34" y="345.20" font-size="9.55">Log2</text>
<text x="86.42" y="355.80" font-size="9.70" textLength="19.18" lengthAdjust="spacingAndGlyphs">F.C.</text>
<rect x="89.20" y="361.20" width="11.90" height="62.60" fill="url(#gc1)"/>
<line x1="89.20" y1="377.20" x2="91.20" y2="377.20" stroke="#f4c0d0" stroke-width="0.6"/>
<line x1="99.10" y1="377.20" x2="101.10" y2="377.20" stroke="#f4c0d0" stroke-width="0.6"/>
<text x="105.42" y="380.60" font-size="9.60">0</text>
<line x1="89.20" y1="394.30" x2="91.20" y2="394.30" stroke="#f4c0d0" stroke-width="0.6"/>
<line x1="99.10" y1="394.30" x2="101.10" y2="394.30" stroke="#f4c0d0" stroke-width="0.6"/>
<text x="105.62" y="397.70" font-size="9.60">−1</text>
<line x1="89.20" y1="412.60" x2="91.20" y2="412.60" stroke="#f4c0d0" stroke-width="0.6"/>
<line x1="99.10" y1="412.60" x2="101.10" y2="412.60" stroke="#f4c0d0" stroke-width="0.6"/>
<text x="105.62" y="416.00" font-size="9.60">−2</text>
<line x1="158.40" y1="249.70" x2="188.50" y2="249.70" stroke="#e6e6e6" stroke-width="0.5"/>
<line x1="158.40" y1="264.65" x2="188.50" y2="264.65" stroke="#e6e6e6" stroke-width="0.5"/>
<line x1="158.40" y1="279.60" x2="188.50" y2="279.60" stroke="#e6e6e6" stroke-width="0.5"/>
<line x1="158.40" y1="294.55" x2="188.50" y2="294.55" stroke="#e6e6e6" stroke-width="0.5"/>
<line x1="158.40" y1="309.50" x2="188.50" y2="309.50" stroke="#e6e6e6" stroke-width="0.5"/>
<line x1="158.40" y1="324.45" x2="188.50" y2="324.45" stroke="#e6e6e6" stroke-width="0.5"/>
<line x1="158.40" y1="339.40" x2="188.50" y2="339.40" stroke="#e6e6e6" stroke-width="0.5"/>
<line x1="158.40" y1="354.35" x2="188.50" y2="354.35" stroke="#e6e6e6" stroke-width="0.5"/>
<line x1="158.40" y1="369.30" x2="188.50" y2="369.30" stroke="#e6e6e6" stroke-width="0.5"/>
<line x1="158.40" y1="384.25" x2="188.50" y2="384.25" stroke="#e6e6e6" stroke-width="0.5"/>
<line x1="158.40" y1="399.20" x2="188.50" y2="399.20" stroke="#e6e6e6" stroke-width="0.5"/>
<line x1="158.40" y1="414.15" x2="188.50" y2="414.15" stroke="#e6e6e6" stroke-width="0.5"/>
<line x1="166.20" y1="240.40" x2="166.20" y2="423.20" stroke="#e6e6e6" stroke-width="0.5"/>
<line x1="179.50" y1="240.40" x2="179.50" y2="423.20" stroke="#e6e6e6" stroke-width="0.5"/>
<rect x="158.4" y="240.4" width="30.099999999999994" height="182.79999999999998" fill="none" stroke="#555" stroke-width="0.8"/>
<text x="133.46" y="252.90" font-size="9.20" font-style="italic">Stat2</text>
<line x1="155.40" y1="249.70" x2="158.40" y2="249.70" stroke="#333" stroke-width="0.8"/>
<circle cx="166.20" cy="249.70" r="4.90" fill="#e41a5a"/>
<circle cx="179.50" cy="249.70" r="5.00" fill="#e41a58"/>
<text x="134.10" y="267.85" font-size="9.20" font-style="italic">Stat1</text>
<line x1="155.40" y1="264.65" x2="158.40" y2="264.65" stroke="#333" stroke-width="0.8"/>
<circle cx="179.50" cy="264.65" r="4.90" fill="#dc1a62"/>
<text x="136.22" y="282.80" font-size="9.20" font-style="italic">Rela</text>
<line x1="155.40" y1="279.60" x2="158.40" y2="279.60" stroke="#333" stroke-width="0.8"/>
<circle cx="179.50" cy="279.60" r="5.00" fill="#e81a50"/>
<text x="130.93" y="297.75" font-size="9.20" font-style="italic">Ptpn2</text>
<line x1="155.40" y1="294.55" x2="158.40" y2="294.55" stroke="#333" stroke-width="0.8"/>
<circle cx="179.50" cy="294.55" r="4.90" fill="#e01a5a"/>
<text x="132.58" y="312.70" font-size="9.20" font-style="italic">Pias1</text>
<line x1="155.40" y1="309.50" x2="158.40" y2="309.50" stroke="#333" stroke-width="0.8"/>
<circle cx="179.50" cy="309.50" r="5.00" fill="#e81a50"/>
<text x="133.59" y="327.65" font-size="9.20" font-style="italic">Oas1</text>
<line x1="155.40" y1="324.45" x2="158.40" y2="324.45" stroke="#333" stroke-width="0.8"/>
<circle cx="179.50" cy="324.45" r="4.90" fill="#e01a5a"/>
<text x="132.26" y="342.60" font-size="9.20" font-style="italic">Isg15</text>
<line x1="155.40" y1="339.40" x2="158.40" y2="339.40" stroke="#333" stroke-width="0.8"/>
<circle cx="166.20" cy="339.40" r="4.90" fill="#e41a58"/>
<circle cx="179.50" cy="339.40" r="5.00" fill="#e41a58"/>
<text x="132.08" y="357.55" font-size="9.20" font-style="italic">Ifnar1</text>
<line x1="155.40" y1="354.35" x2="158.40" y2="354.35" stroke="#333" stroke-width="0.8"/>
<circle cx="179.50" cy="354.35" r="4.10" fill="#c41a8c"/>
<text x="132.35" y="372.50" font-size="9.20" font-style="italic">Ifitm3</text>
<line x1="155.40" y1="369.30" x2="158.40" y2="369.30" stroke="#333" stroke-width="0.8"/>
<circle cx="179.50" cy="369.30" r="4.90" fill="#e01a5a"/>
<text x="132.44" y="387.45" font-size="9.20" font-style="italic">Ifitm2</text>
<line x1="155.40" y1="384.25" x2="158.40" y2="384.25" stroke="#333" stroke-width="0.8"/>
<circle cx="179.50" cy="384.25" r="4.20" fill="#c81a84"/>
<text x="140.03" y="402.40" font-size="9.20" font-style="italic">Ifit3</text>
<line x1="155.40" y1="399.20" x2="158.40" y2="399.20" stroke="#333" stroke-width="0.8"/>
<circle cx="166.20" cy="399.20" r="4.90" fill="#e41a48"/>
<circle cx="179.50" cy="399.20" r="5.60" fill="#ec1e22"/>
<text x="137.37" y="417.35" font-size="9.20" font-style="italic">Ifi35</text>
<line x1="155.40" y1="414.15" x2="158.40" y2="414.15" stroke="#333" stroke-width="0.8"/>
<circle cx="179.50" cy="414.15" r="4.90" fill="#dc1a62"/>
<line x1="166.20" y1="423.20" x2="166.20" y2="425.70" stroke="#333" stroke-width="0.8"/>
<line x1="179.50" y1="423.20" x2="179.50" y2="425.70" stroke="#333" stroke-width="0.8"/>
<text x="151.76" y="434.30" font-size="9.60">LPS</text>
<text x="173.47" y="434.30" font-size="9.60">PA</text>
<text x="192.02" y="339.70" font-size="9.74">Log2</text>
<text x="193.92" y="350.40" font-size="9.70" textLength="18.18" lengthAdjust="spacingAndGlyphs">F.C.</text>
<rect x="195.00" y="353.30" width="14.50" height="70.20" fill="url(#gc2)"/>
<line x1="205.50" y1="363.30" x2="209.50" y2="363.30" stroke="#f4c0d0" stroke-width="0.6"/>
<line x1="201.00" y1="357.30" x2="204.00" y2="357.30" stroke="#f4c0d0" stroke-width="0.6"/>
<text x="214.02" y="366.70" font-size="9.60">0.5</text>
<line x1="205.50" y1="378.70" x2="209.50" y2="378.70" stroke="#f4c0d0" stroke-width="0.6"/>
<line x1="201.00" y1="372.70" x2="204.00" y2="372.70" stroke="#f4c0d0" stroke-width="0.6"/>
<text x="214.02" y="382.10" font-size="9.60">0.0</text>
<line x1="205.50" y1="394.60" x2="209.50" y2="394.60" stroke="#f4c0d0" stroke-width="0.6"/>
<line x1="201.00" y1="388.60" x2="204.00" y2="388.60" stroke="#f4c0d0" stroke-width="0.6"/>
<text x="213.92" y="398.00" font-size="9.60">−0.5</text>
<line x1="205.50" y1="409.90" x2="209.50" y2="409.90" stroke="#f4c0d0" stroke-width="0.6"/>
<line x1="201.00" y1="403.90" x2="204.00" y2="403.90" stroke="#f4c0d0" stroke-width="0.6"/>
<text x="213.92" y="413.30" font-size="9.60">−1.0</text>
<text x="289.97" y="190.60" font-size="11.65"><tspan>Polg</tspan><tspan font-size="6.90" dy="-3.15">D257A</tspan><tspan dy="3.15">/WT BMDM RNA-Seq</tspan></text>
<text x="306.54" y="206.90" font-size="10.66">IPA Upstream Regulators</text>
<rect x="354.80" y="216.90" width="22.35" height="11.21" fill="#a83060"/>
<rect x="376.15" y="216.90" width="21.35" height="11.21" fill="#f5eea0"/>
<rect x="354.80" y="227.11" width="22.35" height="11.21" fill="#e05a38"/>
<rect x="376.15" y="227.11" width="21.35" height="11.21" fill="#e05a38"/>
<rect x="354.80" y="237.33" width="22.35" height="11.21" fill="#c0405a"/>
<rect x="376.15" y="237.33" width="21.35" height="11.21" fill="#f08020"/>
<rect x="354.80" y="247.54" width="22.35" height="11.21" fill="#e8642a"/>
<rect x="376.15" y="247.54" width="21.35" height="11.21" fill="#f8b020"/>
<rect x="354.80" y="257.76" width="22.35" height="11.21" fill="#b83a5a"/>
<rect x="376.15" y="257.76" width="21.35" height="11.21" fill="#f08a22"/>
<rect x="354.80" y="267.97" width="22.35" height="11.21" fill="#6a2070"/>
<rect x="376.15" y="267.97" width="21.35" height="11.21" fill="#d84848"/>
<rect x="354.80" y="278.19" width="22.35" height="11.21" fill="#ec6a24"/>
<rect x="376.15" y="278.19" width="21.35" height="11.21" fill="#f8a818"/>
<rect x="354.80" y="288.40" width="22.35" height="11.21" fill="#ec6a24"/>
<rect x="376.15" y="288.40" width="21.35" height="11.21" fill="#f8c030"/>
<rect x="354.80" y="298.61" width="22.35" height="11.21" fill="#d84848"/>
<rect x="376.15" y="298.61" width="21.35" height="11.21" fill="#f8c838"/>
<rect x="354.80" y="308.83" width="22.35" height="11.21" fill="#6a2470"/>
<rect x="376.15" y="308.83" width="21.35" height="11.21" fill="#e85a30"/>
<rect x="354.80" y="319.04" width="22.35" height="11.21" fill="#6a2470"/>
<rect x="376.15" y="319.04" width="21.35" height="11.21" fill="#a0306a"/>
<rect x="354.80" y="329.26" width="22.35" height="11.21" fill="#2a1a50"/>
<rect x="376.15" y="329.26" width="21.35" height="11.21" fill="#ec6a24"/>
<rect x="354.80" y="339.47" width="22.35" height="11.21" fill="#6a2470"/>
<rect x="376.15" y="339.47" width="21.35" height="11.21" fill="#d04050"/>
<rect x="354.80" y="349.69" width="22.35" height="10.21" fill="#702472"/>
<rect x="376.15" y="349.69" width="21.35" height="10.21" fill="#a8306a"/>
<rect x="354.80" y="216.90" width="42.70" height="143.00" fill="none" stroke="#111" stroke-width="1.6"/>
<text x="332.67" y="225.31" font-size="9.30">Ifnγ</text>
<line x1="348.50" y1="222.01" x2="354.00" y2="222.01" stroke="#1a1a1a" stroke-width="1.4"/>
<text x="327.19" y="235.52" font-size="9.30">Ifnβ1</text>
<line x1="348.50" y1="232.22" x2="354.00" y2="232.22" stroke="#1a1a1a" stroke-width="1.4"/>
<text x="332.30" y="245.74" font-size="9.30">Ifnβ</text>
<line x1="348.50" y1="242.44" x2="354.00" y2="242.44" stroke="#1a1a1a" stroke-width="1.4"/>
<text x="332.16" y="255.95" font-size="9.30">Ifnα</text>
<line x1="348.50" y1="252.65" x2="354.00" y2="252.65" stroke="#1a1a1a" stroke-width="1.4"/>
<text x="329.14" y="266.16" font-size="9.30">Ifnar</text>
<line x1="348.50" y1="262.86" x2="354.00" y2="262.86" stroke="#1a1a1a" stroke-width="1.4"/>
<text x="334.58" y="276.38" font-size="9.30">Irf1</text>
<line x1="348.50" y1="273.08" x2="354.00" y2="273.08" stroke="#1a1a1a" stroke-width="1.4"/>
<text x="334.53" y="286.59" font-size="9.30">Irf3</text>
<line x1="348.50" y1="283.29" x2="354.00" y2="283.29" stroke="#1a1a1a" stroke-width="1.4"/>
<text x="334.63" y="296.81" font-size="9.30">Irf7</text>
<line x1="348.50" y1="293.51" x2="354.00" y2="293.51" stroke="#1a1a1a" stroke-width="1.4"/>
<text x="326.30" y="307.02" font-size="9.30">Stat1</text>
<line x1="348.50" y1="303.72" x2="354.00" y2="303.72" stroke="#1a1a1a" stroke-width="1.4"/>
<text x="306.12" y="317.24" font-size="9.30">Tmem173</text>
<line x1="348.50" y1="313.94" x2="354.00" y2="313.94" stroke="#1a1a1a" stroke-width="1.4"/>
<text x="326.21" y="327.45" font-size="9.30">cGas</text>
<line x1="348.50" y1="324.15" x2="354.00" y2="324.15" stroke="#1a1a1a" stroke-width="1.4"/>
<text x="329.05" y="337.66" font-size="9.30">Tnfα</text>
<line x1="348.50" y1="334.36" x2="354.00" y2="334.36" stroke="#1a1a1a" stroke-width="1.4"/>
<text x="326.58" y="347.88" font-size="9.30">IL-1β</text>
<line x1="348.50" y1="344.58" x2="354.00" y2="344.58" stroke="#1a1a1a" stroke-width="1.4"/>
<text x="331.98" y="358.09" font-size="9.30">IL-6</text>
<line x1="348.50" y1="354.79" x2="354.00" y2="354.79" stroke="#1a1a1a" stroke-width="1.4"/>
<line x1="365.48" y1="359.90" x2="365.48" y2="362.90" stroke="#1a1a1a" stroke-width="1.4"/>
<line x1="386.82" y1="359.90" x2="386.82" y2="362.90" stroke="#1a1a1a" stroke-width="1.4"/>
<text x="355.37" y="373.70" font-size="9.80">LPS</text>
<text x="378.43" y="373.70" font-size="9.80">PA</text>
<line x1="300.70" y1="218.80" x2="300.70" y2="266.00" stroke="#1a1a1a" stroke-width="1.4"/>
<line x1="300.70" y1="269.70" x2="300.70" y2="305.80" stroke="#1a1a1a" stroke-width="1.4"/>
<line x1="300.70" y1="309.40" x2="300.70" y2="327.40" stroke="#1a1a1a" stroke-width="1.4"/>
<line x1="300.70" y1="330.70" x2="300.70" y2="355.70" stroke="#1a1a1a" stroke-width="1.4"/>
<text x="276.40" y="245.90" font-size="9.30">IFNs</text>
<text x="245.22" y="286.90" font-size="9.30">Transcription</text>
<text x="267.31" y="296.00" font-size="9.30">Factors</text>
<text x="244.85" y="321.00" font-size="9.30">DNA sensing</text>
<text x="252.01" y="340.40" font-size="9.30">Inflamatory</text>
<text x="257.50" y="350.20" font-size="9.30">Cytokines</text>
<rect x="404.40" y="276.60" width="7.40" height="84.60" fill="url(#gl)" stroke="#111" stroke-width="1.6"/>
<text x="403.22" y="272.30" font-size="9.29">Z score</text>
<text x="413.68" y="291.90" font-size="9.30">8</text>
<text x="413.64" y="310.50" font-size="9.30">6</text>
<text x="413.91" y="328.50" font-size="9.30">4</text>
<text x="413.64" y="346.50" font-size="9.30">2</text>
<text x="413.73" y="364.50" font-size="9.30">0</text>
<text x="502.86" y="184.00" font-size="11.70">BMDM, PAO1 MOI=5, 6 hpc</text>
<text x="530.86" y="204.00" font-size="10.98" font-style="italic">Ifit1</text>
<text x="601.11" y="202.60" font-size="10.68" font-style="italic">Cxcl10</text>
<text transform="translate(494.1 258.75) rotate(-90)" text-anchor="middle" font-size="9.33">Relative Expression (fold)</text>
<line x1="513.10" y1="222.90" x2="513.10" y2="300.40" stroke="#1a1a1a" stroke-width="1.4"/>
<line x1="512.40" y1="300.40" x2="564.50" y2="300.40" stroke="#1a1a1a" stroke-width="1.4"/>
<line x1="510.10" y1="222.90" x2="513.10" y2="222.90" stroke="#1a1a1a" stroke-width="1.3"/>
<text x="499.00" y="226.20" font-size="9.30">80</text>
<line x1="510.10" y1="242.90" x2="513.10" y2="242.90" stroke="#1a1a1a" stroke-width="1.3"/>
<text x="499.00" y="246.20" font-size="9.30">60</text>
<line x1="510.10" y1="262.30" x2="513.10" y2="262.30" stroke="#1a1a1a" stroke-width="1.3"/>
<text x="499.00" y="265.60" font-size="9.30">40</text>
<line x1="510.10" y1="281.50" x2="513.10" y2="281.50" stroke="#1a1a1a" stroke-width="1.3"/>
<text x="499.00" y="284.80" font-size="9.30">20</text>
<line x1="510.10" y1="300.40" x2="513.10" y2="300.40" stroke="#1a1a1a" stroke-width="1.3"/>
<text x="504.16" y="303.70" font-size="9.30">0</text>
<rect x="520.95" y="268.10" width="14.20" height="32.30" fill="#7f7f7f" stroke="#111" stroke-width="1.1"/>
<rect x="543.15" y="244.30" width="13.50" height="56.10" fill="#3553a3" stroke="#111" stroke-width="1.1"/>
<line x1="529.20" y1="266.50" x2="529.20" y2="271.40" stroke="#1a1a1a" stroke-width="1.0"/>
<line x1="526.80" y1="266.50" x2="531.60" y2="266.50" stroke="#1a1a1a" stroke-width="1.0"/>
<line x1="526.80" y1="271.40" x2="531.60" y2="271.40" stroke="#1a1a1a" stroke-width="1.0"/>
<line x1="550.30" y1="241.30" x2="550.30" y2="247.80" stroke="#1a1a1a" stroke-width="1.0"/>
<line x1="546.70" y1="241.30" x2="553.90" y2="241.30" stroke="#1a1a1a" stroke-width="1.0"/>
<line x1="546.70" y1="247.80" x2="553.90" y2="247.80" stroke="#1a1a1a" stroke-width="1.0"/>
<circle cx="525.90" cy="263.00" r="1.30" fill="#111"/>
<circle cx="530.60" cy="263.00" r="1.30" fill="#111"/>
<circle cx="526.00" cy="269.70" r="1.30" fill="#111"/>
<circle cx="530.50" cy="269.70" r="1.30" fill="#111"/>
<circle cx="527.80" cy="279.00" r="1.30" fill="#111"/>
<circle cx="547.30" cy="237.40" r="1.30" fill="#111"/>
<circle cx="549.70" cy="234.90" r="1.30" fill="#111"/>
<circle cx="551.90" cy="238.00" r="1.30" fill="#111"/>
<circle cx="549.50" cy="255.30" r="1.30" fill="#111"/>
<circle cx="549.50" cy="256.90" r="1.30" fill="#111"/>
<circle cx="546.50" cy="247.80" r="1.30" fill="#111"/>
<path d="M527.8,258.6 L527.8,225.6 L549.7,225.6 L549.7,230.9" fill="none" stroke="#1a1a1a" stroke-width="0.9"/>
<text x="524.04" y="223.20" font-size="7.08" fill="#444">p=0.0003</text>
<line x1="593.80" y1="224.30" x2="593.80" y2="300.50" stroke="#1a1a1a" stroke-width="1.4"/>
<line x1="593.10" y1="300.50" x2="644.80" y2="300.50" stroke="#1a1a1a" stroke-width="1.4"/>
<line x1="590.20" y1="224.30" x2="593.80" y2="224.30" stroke="#1a1a1a" stroke-width="1.3"/>
<text x="568.63" y="227.60" font-size="9.30">1500</text>
<line x1="590.20" y1="249.90" x2="593.80" y2="249.90" stroke="#1a1a1a" stroke-width="1.3"/>
<text x="568.63" y="253.20" font-size="9.30">1000</text>
<line x1="590.20" y1="275.30" x2="593.80" y2="275.30" stroke="#1a1a1a" stroke-width="1.3"/>
<text x="573.84" y="278.60" font-size="9.30">500</text>
<line x1="590.20" y1="300.60" x2="593.80" y2="300.60" stroke="#1a1a1a" stroke-width="1.3"/>
<text x="584.16" y="303.90" font-size="9.30">0</text>
<rect x="600.85" y="280.00" width="14.20" height="20.50" fill="#7f7f7f" stroke="#111" stroke-width="1.1"/>
<rect x="622.75" y="258.20" width="13.40" height="42.30" fill="#3553a3" stroke="#111" stroke-width="1.1"/>
<line x1="608.00" y1="278.00" x2="608.00" y2="282.50" stroke="#1a1a1a" stroke-width="1.0"/>
<line x1="604.80" y1="278.00" x2="611.20" y2="278.00" stroke="#1a1a1a" stroke-width="1.0"/>
<line x1="604.80" y1="282.50" x2="611.20" y2="282.50" stroke="#1a1a1a" stroke-width="1.0"/>
<line x1="629.50" y1="255.10" x2="629.50" y2="261.80" stroke="#1a1a1a" stroke-width="1.0"/>
<line x1="625.90" y1="255.10" x2="633.10" y2="255.10" stroke="#1a1a1a" stroke-width="1.0"/>
<line x1="625.90" y1="261.80" x2="633.10" y2="261.80" stroke="#1a1a1a" stroke-width="1.0"/>
<circle cx="605.80" cy="277.40" r="1.30" fill="#111"/>
<circle cx="610.70" cy="277.40" r="1.30" fill="#111"/>
<circle cx="603.50" cy="279.00" r="1.30" fill="#111"/>
<circle cx="612.50" cy="279.00" r="1.30" fill="#111"/>
<circle cx="607.70" cy="281.00" r="1.30" fill="#111"/>
<circle cx="608.00" cy="284.90" r="1.30" fill="#111"/>
<circle cx="626.80" cy="250.40" r="1.30" fill="#111"/>
<circle cx="631.40" cy="249.00" r="1.30" fill="#111"/>
<circle cx="631.60" cy="252.50" r="1.30" fill="#111"/>
<circle cx="626.80" cy="263.50" r="1.30" fill="#111"/>
<circle cx="631.80" cy="264.50" r="1.30" fill="#111"/>
<circle cx="629.50" cy="271.60" r="1.30" fill="#111"/>
<path d="M608.0,273.5 L608.0,240.5 L629.5,240.5 L629.5,244.8" fill="none" stroke="#1a1a1a" stroke-width="0.9"/>
<text x="603.94" y="236.70" font-size="7.15" fill="#444">p=0.0002</text>
<rect x="638.60" y="213.20" width="8.30" height="6.20" fill="#666" stroke="#111" stroke-width="1.1"/>
<rect x="638.60" y="224.90" width="8.30" height="6.20" fill="#3553a3" stroke="#111" stroke-width="1.1"/>
<text x="649.76" y="219.60" font-size="8.43">WT</text>
<text x="649.63" y="231.50" font-size="9.60"><tspan>Polg</tspan><tspan font-size="5.90" dy="-2.59">D257A</tspan></text>
<text x="505.76" y="338.60" font-size="11.80">BMDM, PAO1 MOI=5</text>
<text x="519.84" y="361.90" font-size="12.42">WT</text>
<text x="568.45" y="361.90" font-size="10.60"><tspan>Polg</tspan><tspan font-size="6.20" dy="-2.86">D257A</tspan></text>
<line x1="499.00" y1="366.20" x2="558.00" y2="366.20" stroke="#1a1a1a" stroke-width="1.1"/>
<line x1="561.60" y1="366.20" x2="620.60" y2="366.20" stroke="#1a1a1a" stroke-width="1.1"/>
<text x="500.92" y="378.70" font-size="9.30">2</text>
<text x="513.10" y="378.70" font-size="9.30">4</text>
<text x="525.13" y="378.70" font-size="9.30">6</text>
<text x="537.29" y="378.70" font-size="9.30">8</text>
<text x="546.77" y="378.70" font-size="9.30">24</text>
<text x="561.57" y="378.70" font-size="9.30">2</text>
<text x="573.75" y="378.70" font-size="9.30">4</text>
<text x="585.78" y="378.70" font-size="9.30">6</text>
<text x="597.94" y="378.70" font-size="9.30">8</text>
<text x="607.42" y="378.70" font-size="9.30">24</text>
<text x="624.04" y="378.70" font-size="9.39">hpc, PAO1</text>
<rect x="495.50" y="382.80" width="126.60" height="14.70" fill="#ebebeb" stroke="#4a4a4a" stroke-width="0.9"/>
<rect x="495.50" y="399.00" width="126.60" height="15.20" fill="#ebebeb" stroke="#4a4a4a" stroke-width="0.9"/>
<rect x="495.50" y="416.00" width="126.60" height="14.90" fill="#ebebeb" stroke="#4a4a4a" stroke-width="0.9"/>
<rect x="496.9" y="389.9" width="9.5" height="2.2" rx="1.1" fill="#111" opacity="0.05" filter="url(#blur1)"/>
<rect x="510.1" y="389.9" width="9.5" height="2.2" rx="1.1" fill="#111" opacity="0.05" filter="url(#blur1)"/>
<rect x="521.5" y="389.9" width="9.5" height="2.2" rx="1.1" fill="#111" opacity="0.20" filter="url(#blur1)"/>
<rect x="534.8" y="389.9" width="9.5" height="2.2" rx="1.1" fill="#111" opacity="0.65" filter="url(#blur1)"/>
<rect x="546.1" y="389.9" width="9.5" height="2.2" rx="1.1" fill="#111" opacity="0.75" filter="url(#blur1)"/>
<rect x="559.5" y="389.9" width="9.5" height="2.2" rx="1.1" fill="#111" opacity="0.20" filter="url(#blur1)"/>
<rect x="570.9" y="389.9" width="9.5" height="2.2" rx="1.1" fill="#111" opacity="0.45" filter="url(#blur1)"/>
<rect x="584.1" y="389.9" width="9.5" height="2.2" rx="1.1" fill="#111" opacity="0.65" filter="url(#blur1)"/>
<rect x="595.7" y="389.5" width="11.0" height="3.0" rx="1.5" fill="#111" opacity="0.90" filter="url(#blur1)"/>
<rect x="608.0" y="389.5" width="11.0" height="3.0" rx="1.5" fill="#111" opacity="1.00" filter="url(#blur1)"/>
<rect x="496.6" y="404.7" width="10.0" height="3.4" rx="1.7" fill="#111" opacity="0.03" filter="url(#blur1)"/>
<rect x="509.9" y="404.7" width="10.0" height="3.4" rx="1.7" fill="#111" opacity="0.03" filter="url(#blur1)"/>
<rect x="521.3" y="404.7" width="10.0" height="3.4" rx="1.7" fill="#111" opacity="0.08" filter="url(#blur1)"/>
<rect x="559.2" y="404.7" width="10.0" height="3.4" rx="1.7" fill="#111" opacity="0.80" filter="url(#blur1)"/>
<rect x="570.6" y="404.7" width="10.0" height="3.4" rx="1.7" fill="#111" opacity="0.90" filter="url(#blur1)"/>
<rect x="583.9" y="404.7" width="10.0" height="3.4" rx="1.7" fill="#111" opacity="0.80" filter="url(#blur1)"/>
<rect x="596.2" y="404.7" width="10.0" height="3.4" rx="1.7" fill="#111" opacity="0.90" filter="url(#blur1)"/>
<rect x="608.0" y="404.3" width="11.0" height="4.2" rx="2.1" fill="#111" opacity="1.00" filter="url(#blur1)"/>
<rect x="535.5" y="405.5" width="8.0" height="1.4" rx="0.7" fill="#111" opacity="0.55" filter="url(#blur1)"/>
<rect x="535.5" y="407.9" width="8.0" height="1.4" rx="0.7" fill="#111" opacity="0.55" filter="url(#blur1)"/>
<rect x="546.4" y="404.1" width="9.0" height="1.4" rx="0.7" fill="#111" opacity="0.50" filter="url(#blur1)"/>
<rect x="546.4" y="406.5" width="9.0" height="1.4" rx="0.7" fill="#111" opacity="0.50" filter="url(#blur1)"/>
<rect x="496.6" y="422.6" width="10.0" height="2.8" rx="1.4" fill="#111" opacity="0.75" filter="url(#blur1)"/>
<rect x="509.9" y="422.2" width="10.0" height="2.8" rx="1.4" fill="#111" opacity="0.85" filter="url(#blur1)"/>
<rect x="521.3" y="423.8" width="10.0" height="2.8" rx="1.4" fill="#111" opacity="0.85" filter="url(#blur1)"/>
<rect x="534.5" y="423.2" width="10.0" height="2.8" rx="1.4" fill="#111" opacity="0.85" filter="url(#blur1)"/>
<rect x="545.9" y="424.2" width="10.0" height="2.8" rx="1.4" fill="#111" opacity="0.85" filter="url(#blur1)"/>
<rect x="559.2" y="421.6" width="10.0" height="2.8" rx="1.4" fill="#111" opacity="0.85" filter="url(#blur1)"/>
<rect x="570.6" y="422.4" width="10.0" height="2.8" rx="1.4" fill="#111" opacity="0.90" filter="url(#blur1)"/>
<rect x="583.9" y="422.4" width="10.0" height="2.8" rx="1.4" fill="#111" opacity="0.90" filter="url(#blur1)"/>
<rect x="595.7" y="422.4" width="11.0" height="2.8" rx="1.4" fill="#111" opacity="0.90" filter="url(#blur1)"/>
<rect x="608.0" y="422.6" width="11.0" height="2.8" rx="1.4" fill="#111" opacity="0.95" filter="url(#blur1)"/>
<text x="623.76" y="392.30" font-size="10.40">IFIT3</text>
<text x="624.23" y="409.40" font-size="10.40">STAT1</text>
<text x="623.87" y="427.00" font-size="10.40">HSP60</text>
<text x="477.75" y="391.60" font-size="6.50">50kD</text>
<text x="474.11" y="405.90" font-size="6.50">100kD</text>
<text x="477.75" y="430.20" font-size="6.50">50kD</text>
<line x1="492.80" y1="389.40" x2="495.50" y2="389.40" stroke="#1a1a1a" stroke-width="0.8"/>
<line x1="492.80" y1="403.70" x2="495.50" y2="403.70" stroke="#1a1a1a" stroke-width="0.8"/>
<line x1="492.80" y1="428.00" x2="495.50" y2="428.00" stroke="#1a1a1a" stroke-width="0.8"/>
<text x="79.65" y="463.60" font-size="11.71">Ingenuity Pathway Analysis of Proteomics, PAO1/Un BMDM</text>
<rect x="307.60" y="478.10" width="17.47" height="12.67" fill="#c43a58"/>
<rect x="324.08" y="478.10" width="17.47" height="12.67" fill="#f5891e"/>
<rect x="340.55" y="478.10" width="17.47" height="12.67" fill="#f5891e"/>
<rect x="357.02" y="478.10" width="16.47" height="12.67" fill="#f5f0a0"/>
<rect x="307.60" y="489.77" width="17.47" height="12.67" fill="#ffffff"/>
<rect x="324.08" y="489.77" width="17.47" height="12.67" fill="#ee6a26"/>
<rect x="340.55" y="489.77" width="17.47" height="12.67" fill="#cc3c50"/>
<rect x="357.02" y="489.77" width="16.47" height="12.67" fill="#f8a01c"/>
<rect x="307.60" y="501.43" width="17.47" height="12.67" fill="#ffffff"/>
<rect x="324.08" y="501.43" width="17.47" height="12.67" fill="#d24048"/>
<rect x="340.55" y="501.43" width="17.47" height="12.67" fill="#ee6a26"/>
<rect x="357.02" y="501.43" width="16.47" height="12.67" fill="#f28020"/>
<rect x="307.60" y="513.10" width="17.47" height="12.67" fill="#ffffff"/>
<rect x="324.08" y="513.10" width="17.47" height="12.67" fill="#d84844"/>
<rect x="340.55" y="513.10" width="17.47" height="12.67" fill="#e85a30"/>
<rect x="357.02" y="513.10" width="16.47" height="12.67" fill="#f28020"/>
<rect x="307.60" y="524.77" width="17.47" height="12.67" fill="#ffffff"/>
<rect x="324.08" y="524.77" width="17.47" height="12.67" fill="#be3858"/>
<rect x="340.55" y="524.77" width="17.47" height="12.67" fill="#dc4a44"/>
<rect x="357.02" y="524.77" width="16.47" height="12.67" fill="#f8a01c"/>
<rect x="307.60" y="536.43" width="17.47" height="12.67" fill="#ffffff"/>
<rect x="324.08" y="536.43" width="17.47" height="12.67" fill="#d84844"/>
<rect x="340.55" y="536.43" width="17.47" height="12.67" fill="#c03858"/>
<rect x="357.02" y="536.43" width="16.47" height="12.67" fill="#e8602c"/>
<rect x="307.60" y="548.10" width="17.47" height="12.67" fill="#ffffff"/>
<rect x="324.08" y="548.10" width="17.47" height="12.67" fill="#ffffff"/>
<rect x="340.55" y="548.10" width="17.47" height="12.67" fill="#e45a34"/>
<rect x="357.02" y="548.10" width="16.47" height="12.67" fill="#f8a81a"/>
<rect x="307.60" y="559.77" width="17.47" height="12.67" fill="#14102a"/>
<rect x="324.08" y="559.77" width="17.47" height="12.67" fill="#4e2070"/>
<rect x="340.55" y="559.77" width="17.47" height="12.67" fill="#84206e"/>
<rect x="357.02" y="559.77" width="16.47" height="12.67" fill="#f5891e"/>
<rect x="307.60" y="571.43" width="17.47" height="11.67" fill="#ffffff"/>
<rect x="324.08" y="571.43" width="17.47" height="11.67" fill="#2a1858"/>
<rect x="340.55" y="571.43" width="17.47" height="11.67" fill="#84206e"/>
<rect x="357.02" y="571.43" width="16.47" height="11.67" fill="#0a0a0e"/>
<rect x="307.60" y="478.10" width="65.90" height="105.00" fill="none" stroke="#111" stroke-width="1.6"/>
<text x="53.27" y="487.80" font-size="10.45">Pathogen Induced Cytokine Storm Signaling Pathway</text>
<line x1="302.00" y1="484.00" x2="307.00" y2="484.00" stroke="#1a1a1a" stroke-width="1.4"/>
<text x="62.00" y="499.30" font-size="10.45">Macrophage Classical Activation Signaling Pathway</text>
<line x1="302.00" y1="495.50" x2="307.00" y2="495.50" stroke="#1a1a1a" stroke-width="1.4"/>
<text x="149.72" y="510.80" font-size="10.45">cGAS-STING Signaling Pathway</text>
<line x1="302.00" y1="507.00" x2="307.00" y2="507.00" stroke="#1a1a1a" stroke-width="1.4"/>
<text x="152.13" y="522.30" font-size="10.45" font-weight="bold">Pyroptosis Signaling Pathway</text>
<line x1="302.00" y1="518.50" x2="307.00" y2="518.50" stroke="#1a1a1a" stroke-width="1.4"/>
<text x="58.49" y="533.80" font-size="10.45">Role of PRRs in Recognition of Bacteria and Viruses</text>
<line x1="302.00" y1="530.00" x2="307.00" y2="530.00" stroke="#1a1a1a" stroke-width="1.4"/>
<text x="218.95" y="545.30" font-size="10.45">HMGB1 Signaling</text>
<line x1="302.00" y1="541.50" x2="307.00" y2="541.50" stroke="#1a1a1a" stroke-width="1.4"/>
<text x="161.37" y="556.80" font-size="10.45">Interferon alpha/beta signaling</text>
<line x1="302.00" y1="553.00" x2="307.00" y2="553.00" stroke="#1a1a1a" stroke-width="1.4"/>
<text x="157.25" y="568.30" font-size="10.45">Necroptosis Signaling Pathway</text>
<line x1="302.00" y1="564.50" x2="307.00" y2="564.50" stroke="#1a1a1a" stroke-width="1.4"/>
<text x="210.18" y="579.80" font-size="10.45">Apoptosis Signaling</text>
<line x1="302.00" y1="576.00" x2="307.00" y2="576.00" stroke="#1a1a1a" stroke-width="1.4"/>
<line x1="315.90" y1="583.00" x2="315.90" y2="587.40" stroke="#1a1a1a" stroke-width="1.4"/>
<line x1="332.10" y1="583.00" x2="332.10" y2="587.40" stroke="#1a1a1a" stroke-width="1.4"/>
<line x1="348.70" y1="583.00" x2="348.70" y2="587.40" stroke="#1a1a1a" stroke-width="1.4"/>
<line x1="364.90" y1="583.00" x2="364.90" y2="587.40" stroke="#1a1a1a" stroke-width="1.4"/>
<text transform="translate(303.50 603.80) rotate(-26)" text-anchor="start" font-size="9.60">WT</text>
<text transform="translate(319.30 602.60) rotate(-26)" text-anchor="start" font-size="9.60">Polg</text>
<text transform="translate(340.00 603.80) rotate(-26)" text-anchor="start" font-size="9.60">WT</text>
<text transform="translate(356.30 603.10) rotate(-26)" text-anchor="start" font-size="9.60">Polg</text>
<line x1="307.60" y1="605.80" x2="340.30" y2="605.80" stroke="#1a1a1a" stroke-width="1.4"/>
<line x1="345.80" y1="605.80" x2="373.00" y2="605.80" stroke="#1a1a1a" stroke-width="1.4"/>
<text x="321.42" y="616.60" font-size="9.30">2</text>
<text x="349.97" y="616.60" font-size="9.47">8 hpc</text>
<rect x="381.60" y="524.00" width="7.20" height="59.50" fill="url(#gl)" stroke="#111" stroke-width="1.6"/>
<text x="376.41" y="518.60" font-size="9.57">Z score</text>
<text x="391.81" y="535.60" font-size="9.30">4</text>
<text x="391.54" y="555.50" font-size="9.30">2</text>
<text x="391.63" y="574.50" font-size="9.30">0</text>
<text x="448.55" y="463.20" font-size="11.83">PAO1/Un BMDM Proteomics</text>
<text x="462.14" y="476.80" font-size="10.71">IPA Upstream Regulators</text>
<rect x="494.20" y="482.00" width="15.35" height="9.20" fill="#45206a"/>
<rect x="508.55" y="482.00" width="15.35" height="9.20" fill="#c03a58"/>
<rect x="522.90" y="482.00" width="15.35" height="9.20" fill="#f07a22"/>
<rect x="537.25" y="482.00" width="14.35" height="9.20" fill="#f5f0a0"/>
<rect x="494.20" y="490.20" width="15.35" height="9.20" fill="#2e1a58"/>
<rect x="508.55" y="490.20" width="15.35" height="9.20" fill="#6e2272"/>
<rect x="522.90" y="490.20" width="15.35" height="9.20" fill="#e4602e"/>
<rect x="537.25" y="490.20" width="14.35" height="9.20" fill="#f8a818"/>
<rect x="494.20" y="498.40" width="15.35" height="9.20" fill="#2e1a58"/>
<rect x="508.55" y="498.40" width="15.35" height="9.20" fill="#8a2070"/>
<rect x="522.90" y="498.40" width="15.35" height="9.20" fill="#b0305e"/>
<rect x="537.25" y="498.40" width="14.35" height="9.20" fill="#f07a22"/>
<rect x="494.20" y="506.60" width="15.35" height="9.20" fill="#45206a"/>
<rect x="508.55" y="506.60" width="15.35" height="9.20" fill="#9a2868"/>
<rect x="522.90" y="506.60" width="15.35" height="9.20" fill="#8a2070"/>
<rect x="537.25" y="506.60" width="14.35" height="9.20" fill="#e4602e"/>
<rect x="494.20" y="514.80" width="15.35" height="9.20" fill="#2e1a58"/>
<rect x="508.55" y="514.80" width="15.35" height="9.20" fill="#8a2070"/>
<rect x="522.90" y="514.80" width="15.35" height="9.20" fill="#8a2070"/>
<rect x="537.25" y="514.80" width="14.35" height="9.20" fill="#c03a58"/>
<rect x="494.20" y="523.00" width="15.35" height="9.20" fill="#45206a"/>
<rect x="508.55" y="523.00" width="15.35" height="9.20" fill="#8a2070"/>
<rect x="522.90" y="523.00" width="15.35" height="9.20" fill="#74207a"/>
<rect x="537.25" y="523.00" width="14.35" height="9.20" fill="#b8345a"/>
<rect x="494.20" y="531.20" width="15.35" height="9.20" fill="#2e1a58"/>
<rect x="508.55" y="531.20" width="15.35" height="9.20" fill="#682270"/>
<rect x="522.90" y="531.20" width="15.35" height="9.20" fill="#a02868"/>
<rect x="537.25" y="531.20" width="14.35" height="9.20" fill="#b8345a"/>
<rect x="494.20" y="539.40" width="15.35" height="9.20" fill="#45206a"/>
<rect x="508.55" y="539.40" width="15.35" height="9.20" fill="#74227a"/>
<rect x="522.90" y="539.40" width="15.35" height="9.20" fill="#8a2070"/>
<rect x="537.25" y="539.40" width="14.35" height="9.20" fill="#c03a58"/>
<rect x="494.20" y="547.60" width="15.35" height="9.20" fill="#181236"/>
<rect x="508.55" y="547.60" width="15.35" height="9.20" fill="#5c2270"/>
<rect x="522.90" y="547.60" width="15.35" height="9.20" fill="#a82a64"/>
<rect x="537.25" y="547.60" width="14.35" height="9.20" fill="#c83e52"/>
<rect x="494.20" y="555.80" width="15.35" height="9.20" fill="#5c2270"/>
<rect x="508.55" y="555.80" width="15.35" height="9.20" fill="#74227a"/>
<rect x="522.90" y="555.80" width="15.35" height="9.20" fill="#5c2270"/>
<rect x="537.25" y="555.80" width="14.35" height="9.20" fill="#a02868"/>
<rect x="494.20" y="564.00" width="15.35" height="9.20" fill="#1e1040"/>
<rect x="508.55" y="564.00" width="15.35" height="9.20" fill="#2e1a58"/>
<rect x="522.90" y="564.00" width="15.35" height="9.20" fill="#b0305e"/>
<rect x="537.25" y="564.00" width="14.35" height="9.20" fill="#c83e50"/>
<rect x="494.20" y="572.20" width="15.35" height="9.20" fill="#1e1040"/>
<rect x="508.55" y="572.20" width="15.35" height="9.20" fill="#682270"/>
<rect x="522.90" y="572.20" width="15.35" height="9.20" fill="#8a2070"/>
<rect x="537.25" y="572.20" width="14.35" height="9.20" fill="#c03a58"/>
<rect x="494.20" y="580.40" width="15.35" height="9.20" fill="#0a0a0e"/>
<rect x="508.55" y="580.40" width="15.35" height="9.20" fill="#2e1a58"/>
<rect x="522.90" y="580.40" width="15.35" height="9.20" fill="#9a2868"/>
<rect x="537.25" y="580.40" width="14.35" height="9.20" fill="#c03a58"/>
<rect x="494.20" y="588.60" width="15.35" height="9.20" fill="#101018"/>
<rect x="508.55" y="588.60" width="15.35" height="9.20" fill="#3a1e60"/>
<rect x="522.90" y="588.60" width="15.35" height="9.20" fill="#8a2070"/>
<rect x="537.25" y="588.60" width="14.35" height="9.20" fill="#b8345a"/>
<rect x="494.20" y="596.80" width="15.35" height="8.20" fill="#0a0a0e"/>
<rect x="508.55" y="596.80" width="15.35" height="8.20" fill="#2e1a58"/>
<rect x="522.90" y="596.80" width="15.35" height="8.20" fill="#a02868"/>
<rect x="537.25" y="596.80" width="14.35" height="8.20" fill="#b8345a"/>
<rect x="494.20" y="482.00" width="57.40" height="123.00" fill="none" stroke="#111" stroke-width="1.6"/>
<text x="472.16" y="489.40" font-size="9.40">LPS</text>
<line x1="490.20" y1="486.10" x2="494.00" y2="486.10" stroke="#1a1a1a" stroke-width="1.3"/>
<text x="469.71" y="497.53" font-size="9.40">IFNγ</text>
<line x1="490.20" y1="494.30" x2="494.00" y2="494.30" stroke="#1a1a1a" stroke-width="1.3"/>
<text x="466.05" y="505.66" font-size="9.40">TNFα</text>
<line x1="490.20" y1="502.50" x2="494.00" y2="502.50" stroke="#1a1a1a" stroke-width="1.3"/>
<text x="471.40" y="513.79" font-size="9.40">IL1β</text>
<line x1="490.20" y1="510.70" x2="494.00" y2="510.70" stroke="#1a1a1a" stroke-width="1.3"/>
<text x="422.71" y="521.92" font-size="9.40">NFkB (complex)</text>
<line x1="490.20" y1="518.90" x2="494.00" y2="518.90" stroke="#1a1a1a" stroke-width="1.3"/>
<text x="471.26" y="530.05" font-size="9.40">IL1α</text>
<line x1="490.20" y1="527.10" x2="494.00" y2="527.10" stroke="#1a1a1a" stroke-width="1.3"/>
<text x="466.89" y="538.18" font-size="9.40">TLR3</text>
<line x1="490.20" y1="535.30" x2="494.00" y2="535.30" stroke="#1a1a1a" stroke-width="1.3"/>
<text x="458.53" y="546.31" font-size="9.40">MYD88</text>
<line x1="490.20" y1="543.50" x2="494.00" y2="543.50" stroke="#1a1a1a" stroke-width="1.3"/>
<text x="455.99" y="554.44" font-size="9.40">STING1</text>
<line x1="490.20" y1="551.70" x2="494.00" y2="551.70" stroke="#1a1a1a" stroke-width="1.3"/>
<text x="476.81" y="562.57" font-size="9.40">IL6</text>
<line x1="490.20" y1="559.90" x2="494.00" y2="559.90" stroke="#1a1a1a" stroke-width="1.3"/>
<text x="469.62" y="570.70" font-size="9.40">IRF7</text>
<line x1="490.20" y1="568.10" x2="494.00" y2="568.10" stroke="#1a1a1a" stroke-width="1.3"/>
<text x="466.80" y="578.83" font-size="9.40">TLR4</text>
<line x1="490.20" y1="576.30" x2="494.00" y2="576.30" stroke="#1a1a1a" stroke-width="1.3"/>
<text x="469.34" y="586.96" font-size="9.40">IFNβ</text>
<line x1="490.20" y1="584.50" x2="494.00" y2="584.50" stroke="#1a1a1a" stroke-width="1.3"/>
<text x="461.72" y="595.09" font-size="9.40">IFNAR</text>
<line x1="490.20" y1="592.70" x2="494.00" y2="592.70" stroke="#1a1a1a" stroke-width="1.3"/>
<text x="462.10" y="603.22" font-size="9.40">STAT1</text>
<line x1="490.20" y1="600.90" x2="494.00" y2="600.90" stroke="#1a1a1a" stroke-width="1.3"/>
<line x1="501.30" y1="605.00" x2="501.30" y2="608.20" stroke="#1a1a1a" stroke-width="1.3"/>
<line x1="515.80" y1="605.00" x2="515.80" y2="608.20" stroke="#1a1a1a" stroke-width="1.3"/>
<line x1="529.70" y1="605.00" x2="529.70" y2="608.20" stroke="#1a1a1a" stroke-width="1.3"/>
<line x1="544.20" y1="605.00" x2="544.20" y2="608.20" stroke="#1a1a1a" stroke-width="1.3"/>
<text transform="translate(493.30 623.00) rotate(-31)" text-anchor="start" font-size="9.60">WT</text>
<text transform="translate(506.50 622.50) rotate(-31)" text-anchor="start" font-size="9.60">Polg</text>
<text transform="translate(524.00 623.50) rotate(-31)" text-anchor="start" font-size="9.60">WT</text>
<text transform="translate(535.50 622.50) rotate(-31)" text-anchor="start" font-size="9.60">Polg</text>
<line x1="494.90" y1="625.00" x2="521.70" y2="625.00" stroke="#1a1a1a" stroke-width="1.4"/>
<line x1="525.90" y1="625.00" x2="552.20" y2="625.00" stroke="#1a1a1a" stroke-width="1.4"/>
<text x="505.92" y="636.40" font-size="9.30">2</text>
<text x="529.18" y="636.40" font-size="9.26">8 hpc</text>
<rect x="558.70" y="545.50" width="7.60" height="61.00" fill="url(#gl)" stroke="#111" stroke-width="1.6"/>
<text x="552.91" y="541.30" font-size="9.66">Z score</text>
<text x="569.60" y="562.50" font-size="9.30">10</text>
<text x="569.93" y="588.20" font-size="9.30">5</text>
<text x="77.37" y="677.10" font-size="11.65"><tspan>Polg</tspan><tspan font-size="6.80" dy="-3.15">D257A</tspan><tspan dy="3.15">/WT PerMac, 6 hpc</tspan></text>
<text x="90.68" y="690.20" font-size="10.49">Cytokines by LegendPlex</text>
<rect x="120.20" y="698.60" width="26.35" height="12.23" fill="#8c1a1a"/>
<rect x="145.55" y="698.60" width="25.35" height="12.23" fill="#901a1a"/>
<rect x="120.20" y="709.83" width="26.35" height="12.23" fill="#9c1c1c"/>
<rect x="145.55" y="709.83" width="25.35" height="12.23" fill="#4e1010"/>
<rect x="120.20" y="721.06" width="26.35" height="12.23" fill="#5e1010"/>
<rect x="145.55" y="721.06" width="25.35" height="12.23" fill="#581010"/>
<rect x="120.20" y="732.29" width="26.35" height="12.23" fill="#ee2828"/>
<rect x="145.55" y="732.29" width="25.35" height="12.23" fill="#581010"/>
<rect x="120.20" y="743.52" width="26.35" height="12.23" fill="#661212"/>
<rect x="145.55" y="743.52" width="25.35" height="12.23" fill="#561010"/>
<rect x="120.20" y="754.75" width="26.35" height="12.23" fill="#701414"/>
<rect x="145.55" y="754.75" width="25.35" height="12.23" fill="#921c1c"/>
<rect x="120.20" y="765.98" width="26.35" height="12.23" fill="#6a1414"/>
<rect x="145.55" y="765.98" width="25.35" height="12.23" fill="#3a0e0e"/>
<rect x="120.20" y="777.22" width="26.35" height="12.23" fill="#921c1c"/>
<rect x="145.55" y="777.22" width="25.35" height="12.23" fill="#9a1c1c"/>
<rect x="120.20" y="788.45" width="26.35" height="12.23" fill="#4c1010"/>
<rect x="145.55" y="788.45" width="25.35" height="12.23" fill="#5e1010"/>
<rect x="120.20" y="799.68" width="26.35" height="12.23" fill="#4c1010"/>
<rect x="145.55" y="799.68" width="25.35" height="12.23" fill="#6a1212"/>
<rect x="120.20" y="810.91" width="26.35" height="12.23" fill="#4c1010"/>
<rect x="145.55" y="810.91" width="25.35" height="12.23" fill="#6a1212"/>
<rect x="120.20" y="822.14" width="26.35" height="12.23" fill="#0c0606"/>
<rect x="145.55" y="822.14" width="25.35" height="12.23" fill="#dc2828"/>
<rect x="120.20" y="833.37" width="26.35" height="11.23" fill="#661212"/>
<rect x="145.55" y="833.37" width="25.35" height="11.23" fill="#dc2828"/>
<rect x="120.20" y="698.60" width="50.70" height="146.00" fill="none" stroke="#111" stroke-width="1.6"/>
<text x="92.14" y="707.42" font-size="9.40">IL-23</text>
<line x1="114.00" y1="704.22" x2="119.50" y2="704.22" stroke="#1a1a1a" stroke-width="1.7"/>
<text x="175.05" y="706.52" font-size="6.90" fill="#444">p=&lt;0.0001, p=&lt;0.0001</text>
<text x="90.78" y="718.65" font-size="9.40" font-weight="bold">IL-1α</text>
<line x1="114.00" y1="715.45" x2="119.50" y2="715.45" stroke="#1a1a1a" stroke-width="1.7"/>
<text x="175.05" y="717.75" font-size="6.90" fill="#444">p=&lt;0.0001, p=&lt;0.0001</text>
<text x="93.41" y="729.88" font-size="9.40">IFNγ</text>
<line x1="114.00" y1="726.68" x2="119.50" y2="726.68" stroke="#1a1a1a" stroke-width="1.7"/>
<text x="175.05" y="728.98" font-size="6.90" fill="#444">p=0.0019, p=&lt;0.0001</text>
<text x="89.75" y="741.11" font-size="9.40">TNFα</text>
<line x1="114.00" y1="737.91" x2="119.50" y2="737.91" stroke="#1a1a1a" stroke-width="1.7"/>
<text x="175.05" y="740.21" font-size="6.90" fill="#444">p=0.0002, p=&lt;0.0001</text>
<text x="84.39" y="752.34" font-size="9.40">MCP-1</text>
<line x1="114.00" y1="749.14" x2="119.50" y2="749.14" stroke="#1a1a1a" stroke-width="1.7"/>
<text x="175.05" y="751.44" font-size="6.90" fill="#444">p=&lt;0.0001, p=&lt;0.0001</text>
<text x="76.45" y="763.57" font-size="9.40">IL-12p70</text>
<line x1="114.00" y1="760.37" x2="119.50" y2="760.37" stroke="#1a1a1a" stroke-width="1.7"/>
<text x="175.05" y="762.67" font-size="6.90" fill="#444">p=&lt;0.0001, p=&lt;0.0001</text>
<text x="91.06" y="774.80" font-size="9.40" font-weight="bold">IL-1β</text>
<line x1="114.00" y1="771.60" x2="119.50" y2="771.60" stroke="#1a1a1a" stroke-width="1.7"/>
<text x="175.05" y="773.90" font-size="6.90" fill="#444">p=&lt;0.0001, p=&lt;0.0001</text>
<text x="92.10" y="786.03" font-size="9.40">IL-10</text>
<line x1="114.00" y1="782.83" x2="119.50" y2="782.83" stroke="#1a1a1a" stroke-width="1.7"/>
<text x="175.05" y="785.13" font-size="6.90" fill="#444">p=&lt;0.0001, p=&lt;0.0001</text>
<text x="97.41" y="797.26" font-size="9.40">IL-6</text>
<line x1="114.00" y1="794.06" x2="119.50" y2="794.06" stroke="#1a1a1a" stroke-width="1.7"/>
<text x="175.05" y="796.36" font-size="6.90" fill="#444">p=&lt;0.0001, p=&lt;0.0001</text>
<text x="92.24" y="808.49" font-size="9.40">IL-27</text>
<line x1="114.00" y1="805.29" x2="119.50" y2="805.29" stroke="#1a1a1a" stroke-width="1.7"/>
<text x="175.05" y="807.59" font-size="6.90" fill="#444">p=0.0203, p=&lt;0.0001</text>
<text x="86.60" y="819.72" font-size="9.40">IL-17α</text>
<line x1="114.00" y1="816.52" x2="119.50" y2="816.52" stroke="#1a1a1a" stroke-width="1.7"/>
<text x="175.05" y="818.82" font-size="6.90" fill="#444">p=&lt;0.0001, p=&lt;0.0001</text>
<text x="93.04" y="830.95" font-size="9.40">IFNβ</text>
<line x1="114.00" y1="827.75" x2="119.50" y2="827.75" stroke="#1a1a1a" stroke-width="1.7"/>
<text x="175.05" y="830.05" font-size="6.90" fill="#444">p=&lt;0.0001, p=&lt;0.0001</text>
<text x="76.49" y="842.18" font-size="9.40">GM-CSF</text>
<line x1="114.00" y1="838.98" x2="119.50" y2="838.98" stroke="#1a1a1a" stroke-width="1.7"/>
<text x="175.05" y="841.28" font-size="6.90" fill="#444">p=&lt;0.0001, p=&lt;0.0001</text>
<line x1="132.60" y1="845.00" x2="132.60" y2="849.50" stroke="#1a1a1a" stroke-width="1.6"/>
<line x1="158.00" y1="845.00" x2="158.00" y2="849.50" stroke="#1a1a1a" stroke-width="1.6"/>
<text x="130.00" y="858.70" font-size="9.30">8</text>
<text x="151.01" y="858.70" font-size="9.73">24 hpc</text>
<text x="46.93" y="758.40" font-size="10.90">F.C.</text>
<rect x="51.80" y="760.90" width="8.60" height="85.60" fill="url(#gi)" stroke="#111" stroke-width="1.6"/>
<text x="64.43" y="768.80" font-size="9.30">5</text>
<text x="64.61" y="785.70" font-size="9.30">4</text>
<text x="64.43" y="802.30" font-size="9.30">3</text>
<text x="64.33" y="819.30" font-size="9.30">2</text>
<text x="64.10" y="836.30" font-size="9.30">1</text>
<text x="342.76" y="679.40" font-size="11.79">PerMac, PAO1 MOI=5</text>
<text x="319.66" y="698.40" font-size="11.80">TNFα</text>
<text x="464.74" y="699.40" font-size="11.82">IL-6</text>
<line x1="285.40" y1="704.60" x2="285.40" y2="769.30" stroke="#1a1a1a" stroke-width="1.3"/>
<line x1="284.80" y1="769.30" x2="382.70" y2="769.30" stroke="#1a1a1a" stroke-width="1.3"/>
<line x1="282.80" y1="704.90" x2="285.40" y2="704.90" stroke="#1a1a1a" stroke-width="1.2"/>
<text x="268.03" y="707.70" font-size="9.30">10</text>
<text x="278.12" y="705.50" font-size="5.00">6</text>
<line x1="282.80" y1="726.60" x2="285.40" y2="726.60" stroke="#1a1a1a" stroke-width="1.2"/>
<text x="268.03" y="729.40" font-size="9.30">10</text>
<text x="278.12" y="727.20" font-size="5.00">5</text>
<line x1="282.80" y1="748.20" x2="285.40" y2="748.20" stroke="#1a1a1a" stroke-width="1.2"/>
<text x="267.98" y="751.00" font-size="9.30">10</text>
<text x="278.07" y="748.80" font-size="5.00">4</text>
<line x1="282.80" y1="769.30" x2="285.40" y2="769.30" stroke="#1a1a1a" stroke-width="1.2"/>
<text x="268.03" y="772.10" font-size="9.30">10</text>
<text x="278.12" y="769.90" font-size="5.00">3</text>
<line x1="300.40" y1="769.30" x2="300.40" y2="772.30" stroke="#1a1a1a" stroke-width="1.2"/>
<text x="297.87" y="781.60" font-size="9.30">4</text>
<line x1="323.10" y1="769.30" x2="323.10" y2="772.30" stroke="#1a1a1a" stroke-width="1.2"/>
<text x="320.47" y="781.60" font-size="9.30">6</text>
<line x1="344.90" y1="769.30" x2="344.90" y2="772.30" stroke="#1a1a1a" stroke-width="1.2"/>
<text x="342.30" y="781.60" font-size="9.30">8</text>
<line x1="367.40" y1="769.30" x2="367.40" y2="772.30" stroke="#1a1a1a" stroke-width="1.2"/>
<text x="362.17" y="781.60" font-size="9.30">20</text>
<text transform="translate(261.9 733.1) rotate(-90)" text-anchor="middle" font-size="9.2">ng/mL</text>
<path d="M300.40,757.70 L323.10,749.50 L344.90,746.40 L367.40,725.80" fill="none" stroke="#3a5bb8" stroke-width="1.3"/>
<line x1="300.40" y1="756.20" x2="300.40" y2="759.20" stroke="#1a1a1a" stroke-width="0.8"/>
<line x1="299.30" y1="756.20" x2="301.50" y2="756.20" stroke="#1a1a1a" stroke-width="0.8"/>
<line x1="299.30" y1="759.20" x2="301.50" y2="759.20" stroke="#1a1a1a" stroke-width="0.8"/>
<rect x="299.20" y="756.50" width="2.40" height="2.40" fill="#1a1a1a"/>
<line x1="323.10" y1="747.50" x2="323.10" y2="751.50" stroke="#1a1a1a" stroke-width="0.8"/>
<line x1="322.00" y1="747.50" x2="324.20" y2="747.50" stroke="#1a1a1a" stroke-width="0.8"/>
<line x1="322.00" y1="751.50" x2="324.20" y2="751.50" stroke="#1a1a1a" stroke-width="0.8"/>
<rect x="321.90" y="748.30" width="2.40" height="2.40" fill="#1a1a1a"/>
<line x1="344.90" y1="744.40" x2="344.90" y2="748.40" stroke="#1a1a1a" stroke-width="0.8"/>
<line x1="343.80" y1="744.40" x2="346.00" y2="744.40" stroke="#1a1a1a" stroke-width="0.8"/>
<line x1="343.80" y1="748.40" x2="346.00" y2="748.40" stroke="#1a1a1a" stroke-width="0.8"/>
<rect x="343.70" y="745.20" width="2.40" height="2.40" fill="#1a1a1a"/>
<line x1="367.40" y1="723.60" x2="367.40" y2="728.00" stroke="#1a1a1a" stroke-width="0.8"/>
<line x1="366.30" y1="723.60" x2="368.50" y2="723.60" stroke="#1a1a1a" stroke-width="0.8"/>
<line x1="366.30" y1="728.00" x2="368.50" y2="728.00" stroke="#1a1a1a" stroke-width="0.8"/>
<rect x="366.20" y="724.60" width="2.40" height="2.40" fill="#1a1a1a"/>
<path d="M300.40,760.10 L323.10,756.50 L344.90,757.70 L367.40,744.40" fill="none" stroke="#1a1a1a" stroke-width="1.3"/>
<line x1="300.40" y1="758.90" x2="300.40" y2="761.30" stroke="#1a1a1a" stroke-width="0.8"/>
<line x1="299.30" y1="758.90" x2="301.50" y2="758.90" stroke="#1a1a1a" stroke-width="0.8"/>
<line x1="299.30" y1="761.30" x2="301.50" y2="761.30" stroke="#1a1a1a" stroke-width="0.8"/>
<circle cx="300.40" cy="760.10" r="1.20" fill="#1a1a1a"/>
<line x1="323.10" y1="755.00" x2="323.10" y2="758.00" stroke="#1a1a1a" stroke-width="0.8"/>
<line x1="322.00" y1="755.00" x2="324.20" y2="755.00" stroke="#1a1a1a" stroke-width="0.8"/>
<line x1="322.00" y1="758.00" x2="324.20" y2="758.00" stroke="#1a1a1a" stroke-width="0.8"/>
<circle cx="323.10" cy="756.50" r="1.20" fill="#1a1a1a"/>
<line x1="344.90" y1="756.20" x2="344.90" y2="759.20" stroke="#1a1a1a" stroke-width="0.8"/>
<line x1="343.80" y1="756.20" x2="346.00" y2="756.20" stroke="#1a1a1a" stroke-width="0.8"/>
<line x1="343.80" y1="759.20" x2="346.00" y2="759.20" stroke="#1a1a1a" stroke-width="0.8"/>
<circle cx="344.90" cy="757.70" r="1.20" fill="#1a1a1a"/>
<line x1="367.40" y1="742.60" x2="367.40" y2="746.20" stroke="#1a1a1a" stroke-width="0.8"/>
<line x1="366.30" y1="742.60" x2="368.50" y2="742.60" stroke="#1a1a1a" stroke-width="0.8"/>
<line x1="366.30" y1="746.20" x2="368.50" y2="746.20" stroke="#1a1a1a" stroke-width="0.8"/>
<circle cx="367.40" cy="744.40" r="1.20" fill="#1a1a1a"/>
<path d="M372.3,726.4 L375.5,726.4 L375.5,741.5 L372.3,741.5" fill="none" stroke="#444" stroke-width="0.8"/>
<text transform="translate(381.60 732.60) rotate(90)" text-anchor="middle" font-size="6.8" fill="#444" dy="2.3">p=&lt;0.0001</text>
<line x1="421.40" y1="704.90" x2="421.40" y2="769.30" stroke="#1a1a1a" stroke-width="1.3"/>
<line x1="420.80" y1="769.30" x2="518.90" y2="769.30" stroke="#1a1a1a" stroke-width="1.3"/>
<line x1="419.00" y1="704.90" x2="421.40" y2="704.90" stroke="#1a1a1a" stroke-width="1.2"/>
<text x="405.42" y="706.30" font-size="9.30">10</text>
<text x="415.52" y="704.30" font-size="6.30">7</text>
<line x1="419.00" y1="721.30" x2="421.40" y2="721.30" stroke="#1a1a1a" stroke-width="1.2"/>
<text x="405.36" y="722.70" font-size="9.30">10</text>
<text x="415.46" y="720.70" font-size="6.30">6</text>
<line x1="419.00" y1="737.20" x2="421.40" y2="737.20" stroke="#1a1a1a" stroke-width="1.2"/>
<text x="405.36" y="738.60" font-size="9.30">10</text>
<text x="415.46" y="736.60" font-size="6.30">5</text>
<line x1="419.00" y1="753.60" x2="421.40" y2="753.60" stroke="#1a1a1a" stroke-width="1.2"/>
<text x="405.29" y="755.00" font-size="9.30">10</text>
<text x="415.39" y="753.00" font-size="6.30">4</text>
<line x1="419.00" y1="769.30" x2="421.40" y2="769.30" stroke="#1a1a1a" stroke-width="1.2"/>
<text x="405.36" y="772.30" font-size="9.30">10</text>
<text x="415.46" y="770.30" font-size="6.30">3</text>
<line x1="435.70" y1="769.30" x2="435.70" y2="772.30" stroke="#1a1a1a" stroke-width="1.2"/>
<text x="433.17" y="781.60" font-size="9.30">4</text>
<line x1="459.20" y1="769.30" x2="459.20" y2="772.30" stroke="#1a1a1a" stroke-width="1.2"/>
<text x="456.57" y="781.60" font-size="9.30">6</text>
<line x1="481.50" y1="769.30" x2="481.50" y2="772.30" stroke="#1a1a1a" stroke-width="1.2"/>
<text x="478.90" y="781.60" font-size="9.30">8</text>
<line x1="503.50" y1="769.30" x2="503.50" y2="772.30" stroke="#1a1a1a" stroke-width="1.2"/>
<text x="498.27" y="781.60" font-size="9.30">20</text>
<text x="511.65" y="781.60" font-size="9.30">hpc</text>
<text transform="translate(403.4 735.5) rotate(-90)" text-anchor="middle" font-size="9.1">ng/mL</text>
<path d="M435.70,751.90 L459.20,739.90 L481.50,735.20 L503.50,716.80" fill="none" stroke="#3a5bb8" stroke-width="1.3"/>
<line x1="435.70" y1="750.10" x2="435.70" y2="753.70" stroke="#1a1a1a" stroke-width="0.8"/>
<line x1="434.60" y1="750.10" x2="436.80" y2="750.10" stroke="#1a1a1a" stroke-width="0.8"/>
<line x1="434.60" y1="753.70" x2="436.80" y2="753.70" stroke="#1a1a1a" stroke-width="0.8"/>
<rect x="434.50" y="750.70" width="2.40" height="2.40" fill="#1a1a1a"/>
<line x1="459.20" y1="737.90" x2="459.20" y2="741.90" stroke="#1a1a1a" stroke-width="0.8"/>
<line x1="458.10" y1="737.90" x2="460.30" y2="737.90" stroke="#1a1a1a" stroke-width="0.8"/>
<line x1="458.10" y1="741.90" x2="460.30" y2="741.90" stroke="#1a1a1a" stroke-width="0.8"/>
<rect x="458.00" y="738.70" width="2.40" height="2.40" fill="#1a1a1a"/>
<line x1="481.50" y1="733.20" x2="481.50" y2="737.20" stroke="#1a1a1a" stroke-width="0.8"/>
<line x1="480.40" y1="733.20" x2="482.60" y2="733.20" stroke="#1a1a1a" stroke-width="0.8"/>
<line x1="480.40" y1="737.20" x2="482.60" y2="737.20" stroke="#1a1a1a" stroke-width="0.8"/>
<rect x="480.30" y="734.00" width="2.40" height="2.40" fill="#1a1a1a"/>
<line x1="503.50" y1="714.60" x2="503.50" y2="719.00" stroke="#1a1a1a" stroke-width="0.8"/>
<line x1="502.40" y1="714.60" x2="504.60" y2="714.60" stroke="#1a1a1a" stroke-width="0.8"/>
<line x1="502.40" y1="719.00" x2="504.60" y2="719.00" stroke="#1a1a1a" stroke-width="0.8"/>
<rect x="502.30" y="715.60" width="2.40" height="2.40" fill="#1a1a1a"/>
<path d="M435.70,757.30 L459.20,746.80 L481.50,743.80 L503.50,733.10" fill="none" stroke="#1a1a1a" stroke-width="1.3"/>
<line x1="435.70" y1="755.50" x2="435.70" y2="759.10" stroke="#1a1a1a" stroke-width="0.8"/>
<line x1="434.60" y1="755.50" x2="436.80" y2="755.50" stroke="#1a1a1a" stroke-width="0.8"/>
<line x1="434.60" y1="759.10" x2="436.80" y2="759.10" stroke="#1a1a1a" stroke-width="0.8"/>
<circle cx="435.70" cy="757.30" r="1.20" fill="#1a1a1a"/>
<line x1="459.20" y1="745.30" x2="459.20" y2="748.30" stroke="#1a1a1a" stroke-width="0.8"/>
<line x1="458.10" y1="745.30" x2="460.30" y2="745.30" stroke="#1a1a1a" stroke-width="0.8"/>
<line x1="458.10" y1="748.30" x2="460.30" y2="748.30" stroke="#1a1a1a" stroke-width="0.8"/>
<circle cx="459.20" cy="746.80" r="1.20" fill="#1a1a1a"/>
<line x1="481.50" y1="742.30" x2="481.50" y2="745.30" stroke="#1a1a1a" stroke-width="0.8"/>
<line x1="480.40" y1="742.30" x2="482.60" y2="742.30" stroke="#1a1a1a" stroke-width="0.8"/>
<line x1="480.40" y1="745.30" x2="482.60" y2="745.30" stroke="#1a1a1a" stroke-width="0.8"/>
<circle cx="481.50" cy="743.80" r="1.20" fill="#1a1a1a"/>
<line x1="503.50" y1="731.30" x2="503.50" y2="734.90" stroke="#1a1a1a" stroke-width="0.8"/>
<line x1="502.40" y1="731.30" x2="504.60" y2="731.30" stroke="#1a1a1a" stroke-width="0.8"/>
<line x1="502.40" y1="734.90" x2="504.60" y2="734.90" stroke="#1a1a1a" stroke-width="0.8"/>
<circle cx="503.50" cy="733.10" r="1.20" fill="#1a1a1a"/>
<path d="M508.6,716.4 L511.7,716.4 L511.7,731.5 L508.6,731.5" fill="none" stroke="#444" stroke-width="0.8"/>
<text transform="translate(517.60 724.25) rotate(90)" text-anchor="middle" font-size="6.8" fill="#444" dy="2.3">p=&lt;0.0001</text>
<text x="327.88" y="804.50" font-size="11.29">IL-1β</text>
<line x1="299.90" y1="811.80" x2="299.90" y2="876.50" stroke="#1a1a1a" stroke-width="1.3"/>
<line x1="299.30" y1="876.50" x2="396.30" y2="876.50" stroke="#1a1a1a" stroke-width="1.3"/>
<line x1="296.70" y1="811.30" x2="299.90" y2="811.30" stroke="#1a1a1a" stroke-width="1.2"/>
<text x="282.32" y="813.10" font-size="9.30">10</text>
<text x="292.41" y="811.10" font-size="5.80">5</text>
<line x1="296.70" y1="824.60" x2="299.90" y2="824.60" stroke="#1a1a1a" stroke-width="1.2"/>
<text x="282.26" y="826.40" font-size="9.30">10</text>
<text x="292.35" y="824.40" font-size="5.80">4</text>
<line x1="296.70" y1="837.50" x2="299.90" y2="837.50" stroke="#1a1a1a" stroke-width="1.2"/>
<text x="282.32" y="839.30" font-size="9.30">10</text>
<text x="292.41" y="837.30" font-size="5.80">3</text>
<line x1="296.70" y1="850.50" x2="299.90" y2="850.50" stroke="#1a1a1a" stroke-width="1.2"/>
<text x="282.37" y="852.30" font-size="9.30">10</text>
<text x="292.47" y="850.30" font-size="5.80">2</text>
<line x1="296.70" y1="863.30" x2="299.90" y2="863.30" stroke="#1a1a1a" stroke-width="1.2"/>
<text x="285.40" y="865.50" font-size="9.30">10</text>
<line x1="296.70" y1="876.50" x2="299.90" y2="876.50" stroke="#1a1a1a" stroke-width="1.2"/>
<text x="290.66" y="878.40" font-size="9.30">1</text>
<line x1="314.20" y1="876.50" x2="314.20" y2="879.50" stroke="#1a1a1a" stroke-width="1.2"/>
<text x="311.67" y="887.60" font-size="9.30">4</text>
<line x1="336.90" y1="876.50" x2="336.90" y2="879.50" stroke="#1a1a1a" stroke-width="1.2"/>
<text x="334.27" y="887.60" font-size="9.30">6</text>
<line x1="359.00" y1="876.50" x2="359.00" y2="879.50" stroke="#1a1a1a" stroke-width="1.2"/>
<text x="356.40" y="887.60" font-size="9.30">8</text>
<line x1="381.40" y1="876.50" x2="381.40" y2="879.50" stroke="#1a1a1a" stroke-width="1.2"/>
<text x="376.17" y="887.60" font-size="9.30">20</text>
<text transform="translate(276.0 843.0) rotate(-90)" text-anchor="middle" font-size="9.1">ng/mL</text>
<path d="M314.20,875.20 L336.90,843.50 L359.00,838.00 L381.40,822.70" fill="none" stroke="#3a5bb8" stroke-width="1.3"/>
<line x1="314.20" y1="874.00" x2="314.20" y2="876.40" stroke="#1a1a1a" stroke-width="0.8"/>
<line x1="313.10" y1="874.00" x2="315.30" y2="874.00" stroke="#1a1a1a" stroke-width="0.8"/>
<line x1="313.10" y1="876.40" x2="315.30" y2="876.40" stroke="#1a1a1a" stroke-width="0.8"/>
<rect x="313.00" y="874.00" width="2.40" height="2.40" fill="#1a1a1a"/>
<line x1="336.90" y1="841.70" x2="336.90" y2="845.30" stroke="#1a1a1a" stroke-width="0.8"/>
<line x1="335.80" y1="841.70" x2="338.00" y2="841.70" stroke="#1a1a1a" stroke-width="0.8"/>
<line x1="335.80" y1="845.30" x2="338.00" y2="845.30" stroke="#1a1a1a" stroke-width="0.8"/>
<rect x="335.70" y="842.30" width="2.40" height="2.40" fill="#1a1a1a"/>
<line x1="359.00" y1="836.00" x2="359.00" y2="840.00" stroke="#1a1a1a" stroke-width="0.8"/>
<line x1="357.90" y1="836.00" x2="360.10" y2="836.00" stroke="#1a1a1a" stroke-width="0.8"/>
<line x1="357.90" y1="840.00" x2="360.10" y2="840.00" stroke="#1a1a1a" stroke-width="0.8"/>
<rect x="357.80" y="836.80" width="2.40" height="2.40" fill="#1a1a1a"/>
<line x1="381.40" y1="820.50" x2="381.40" y2="824.90" stroke="#1a1a1a" stroke-width="0.8"/>
<line x1="380.30" y1="820.50" x2="382.50" y2="820.50" stroke="#1a1a1a" stroke-width="0.8"/>
<line x1="380.30" y1="824.90" x2="382.50" y2="824.90" stroke="#1a1a1a" stroke-width="0.8"/>
<rect x="380.20" y="821.50" width="2.40" height="2.40" fill="#1a1a1a"/>
<path d="M314.20,876.30 L336.90,873.10 L359.00,844.60 L381.40,834.30" fill="none" stroke="#1a1a1a" stroke-width="1.3"/>
<line x1="314.20" y1="875.50" x2="314.20" y2="877.10" stroke="#1a1a1a" stroke-width="0.8"/>
<line x1="313.10" y1="875.50" x2="315.30" y2="875.50" stroke="#1a1a1a" stroke-width="0.8"/>
<line x1="313.10" y1="877.10" x2="315.30" y2="877.10" stroke="#1a1a1a" stroke-width="0.8"/>
<circle cx="314.20" cy="876.30" r="1.20" fill="#1a1a1a"/>
<line x1="336.90" y1="869.60" x2="336.90" y2="876.60" stroke="#1a1a1a" stroke-width="0.8"/>
<line x1="335.80" y1="869.60" x2="338.00" y2="869.60" stroke="#1a1a1a" stroke-width="0.8"/>
<line x1="335.80" y1="876.60" x2="338.00" y2="876.60" stroke="#1a1a1a" stroke-width="0.8"/>
<circle cx="336.90" cy="873.10" r="1.20" fill="#1a1a1a"/>
<line x1="359.00" y1="843.10" x2="359.00" y2="846.10" stroke="#1a1a1a" stroke-width="0.8"/>
<line x1="357.90" y1="843.10" x2="360.10" y2="843.10" stroke="#1a1a1a" stroke-width="0.8"/>
<line x1="357.90" y1="846.10" x2="360.10" y2="846.10" stroke="#1a1a1a" stroke-width="0.8"/>
<circle cx="359.00" cy="844.60" r="1.20" fill="#1a1a1a"/>
<line x1="381.40" y1="832.50" x2="381.40" y2="836.10" stroke="#1a1a1a" stroke-width="0.8"/>
<line x1="380.30" y1="832.50" x2="382.50" y2="832.50" stroke="#1a1a1a" stroke-width="0.8"/>
<line x1="380.30" y1="836.10" x2="382.50" y2="836.10" stroke="#1a1a1a" stroke-width="0.8"/>
<circle cx="381.40" cy="834.30" r="1.20" fill="#1a1a1a"/>
<path d="M387.3,820.5 L389.5,820.5 L389.5,835.8 L387.3,835.8" fill="none" stroke="#444" stroke-width="0.8"/>
<text transform="translate(395.30 828.20) rotate(90)" text-anchor="middle" font-size="6.8" fill="#444" dy="2.3">p=&lt;0.0001</text>
<line x1="432.90" y1="811.20" x2="445.20" y2="811.20" stroke="#1a1a1a" stroke-width="1.5"/>
<circle cx="439.00" cy="811.20" r="2.00" fill="#1a1a1a"/>
<line x1="432.90" y1="824.50" x2="445.20" y2="824.50" stroke="#3a5bb8" stroke-width="1.5"/>
<rect x="437.10" y="822.60" width="3.80" height="3.80" fill="#1a1a1a"/>
<text x="448.25" y="814.70" font-size="9.67">WT</text>
<text x="447.52" y="827.80" font-size="9.80"><tspan>Polg</tspan><tspan font-size="5.40" dy="-2.65">D257A</tspan></text>
<text x="559.76" y="654.10" font-size="11.76">BMDM Proteomics</text>
<text x="548.97" y="668.70" font-size="10.35"><tspan>Polg</tspan><tspan font-size="6.40" dy="-2.79">D257A</tspan><tspan dy="2.79"> 8hr PAO1/Un vs.</tspan></text>
<text x="566.85" y="683.00" font-size="10.58">WT 8hr PAO1/Un</text>
<text x="564.65" y="699.60" font-size="10.62">Pyroptosis Signaling</text>
<text x="592.14" y="710.80" font-size="10.79">Pathway</text>
<rect x="585.00" y="714.80" width="14.50" height="13.52" fill="#f5e614"/>
<rect x="598.50" y="714.80" width="14.50" height="13.52" fill="#f5e614"/>
<rect x="612.00" y="714.80" width="14.50" height="13.52" fill="#f5e614"/>
<rect x="625.50" y="714.80" width="13.50" height="13.52" fill="#f5e614"/>
<rect x="585.00" y="727.32" width="14.50" height="13.52" fill="#852070"/>
<rect x="598.50" y="727.32" width="14.50" height="13.52" fill="#f8a518"/>
<rect x="612.00" y="727.32" width="14.50" height="13.52" fill="#ec6a25"/>
<rect x="625.50" y="727.32" width="13.50" height="13.52" fill="#f7921c"/>
<rect x="585.00" y="739.85" width="14.50" height="13.52" fill="#e65c2e"/>
<rect x="598.50" y="739.85" width="14.50" height="13.52" fill="#f8a518"/>
<rect x="612.00" y="739.85" width="14.50" height="13.52" fill="#e25838"/>
<rect x="625.50" y="739.85" width="13.50" height="13.52" fill="#e45c30"/>
<rect x="585.00" y="752.37" width="14.50" height="13.52" fill="#f37c20"/>
<rect x="598.50" y="752.37" width="14.50" height="13.52" fill="#f89a1c"/>
<rect x="612.00" y="752.37" width="14.50" height="13.52" fill="#f8b41c"/>
<rect x="625.50" y="752.37" width="13.50" height="13.52" fill="#f2d650"/>
<rect x="585.00" y="764.89" width="14.50" height="13.52" fill="#cc3c4c"/>
<rect x="598.50" y="764.89" width="14.50" height="13.52" fill="#8c2070"/>
<rect x="612.00" y="764.89" width="14.50" height="13.52" fill="#f37c20"/>
<rect x="625.50" y="764.89" width="13.50" height="13.52" fill="#c03858"/>
<rect x="585.00" y="777.42" width="14.50" height="13.52" fill="#4c1d6a"/>
<rect x="598.50" y="777.42" width="14.50" height="13.52" fill="#4a1c68"/>
<rect x="612.00" y="777.42" width="14.50" height="13.52" fill="#5c2070"/>
<rect x="625.50" y="777.42" width="13.50" height="13.52" fill="#54206e"/>
<rect x="585.00" y="789.94" width="14.50" height="13.52" fill="#17132c"/>
<rect x="598.50" y="789.94" width="14.50" height="13.52" fill="#1a1434"/>
<rect x="612.00" y="789.94" width="14.50" height="13.52" fill="#151223"/>
<rect x="625.50" y="789.94" width="13.50" height="13.52" fill="#161328"/>
<rect x="585.00" y="802.46" width="14.50" height="13.52" fill="#5c1f70"/>
<rect x="598.50" y="802.46" width="14.50" height="13.52" fill="#6a2070"/>
<rect x="612.00" y="802.46" width="14.50" height="13.52" fill="#6a2070"/>
<rect x="625.50" y="802.46" width="13.50" height="13.52" fill="#5c1f70"/>
<rect x="585.00" y="814.98" width="14.50" height="13.52" fill="#3c1c66"/>
<rect x="598.50" y="814.98" width="14.50" height="13.52" fill="#6a2070"/>
<rect x="612.00" y="814.98" width="14.50" height="13.52" fill="#3c1c66"/>
<rect x="625.50" y="814.98" width="13.50" height="13.52" fill="#4a1e6a"/>
<rect x="585.00" y="827.51" width="14.50" height="13.52" fill="#17142a"/>
<rect x="598.50" y="827.51" width="14.50" height="13.52" fill="#17142a"/>
<rect x="612.00" y="827.51" width="14.50" height="13.52" fill="#17142a"/>
<rect x="625.50" y="827.51" width="13.50" height="13.52" fill="#1a1530"/>
<rect x="585.00" y="840.03" width="14.50" height="13.52" fill="#1e1440"/>
<rect x="598.50" y="840.03" width="14.50" height="13.52" fill="#221550"/>
<rect x="612.00" y="840.03" width="14.50" height="13.52" fill="#3a1c60"/>
<rect x="625.50" y="840.03" width="13.50" height="13.52" fill="#361c62"/>
<rect x="585.00" y="852.55" width="14.50" height="13.52" fill="#251650"/>
<rect x="598.50" y="852.55" width="14.50" height="13.52" fill="#301a5a"/>
<rect x="612.00" y="852.55" width="14.50" height="13.52" fill="#3a1c60"/>
<rect x="625.50" y="852.55" width="13.50" height="13.52" fill="#7a2070"/>
<rect x="585.00" y="865.08" width="14.50" height="12.52" fill="#0e0e14"/>
<rect x="598.50" y="865.08" width="14.50" height="12.52" fill="#121218"/>
<rect x="612.00" y="865.08" width="14.50" height="12.52" fill="#101016"/>
<rect x="625.50" y="865.08" width="13.50" height="12.52" fill="#141420"/>
<rect x="585.00" y="714.80" width="54.00" height="162.80" fill="none" stroke="#111" stroke-width="1.6"/>
<text x="561.50" y="724.36" font-size="9.40">IL1β</text>
<line x1="580.30" y1="721.06" x2="584.50" y2="721.06" stroke="#1a1a1a" stroke-width="1.3"/>
<text x="556.15" y="736.88" font-size="9.40">TNFα</text>
<line x1="580.30" y1="733.58" x2="584.50" y2="733.58" stroke="#1a1a1a" stroke-width="1.3"/>
<text x="557.09" y="749.41" font-size="9.40">TLR2</text>
<line x1="580.30" y1="746.11" x2="584.50" y2="746.11" stroke="#1a1a1a" stroke-width="1.3"/>
<text x="557.09" y="761.93" font-size="9.40">Gbp2</text>
<line x1="580.30" y1="758.63" x2="584.50" y2="758.63" stroke="#1a1a1a" stroke-width="1.3"/>
<text x="561.36" y="774.45" font-size="9.40">IL1α</text>
<line x1="580.30" y1="771.15" x2="584.50" y2="771.15" stroke="#1a1a1a" stroke-width="1.3"/>
<text x="556.99" y="786.98" font-size="9.40">Gbp3</text>
<line x1="580.30" y1="783.68" x2="584.50" y2="783.68" stroke="#1a1a1a" stroke-width="1.3"/>
<text x="549.75" y="799.50" font-size="9.40">NFKB1</text>
<line x1="580.30" y1="796.20" x2="584.50" y2="796.20" stroke="#1a1a1a" stroke-width="1.3"/>
<text x="549.80" y="812.02" font-size="9.40">NFKB2</text>
<line x1="580.30" y1="808.72" x2="584.50" y2="808.72" stroke="#1a1a1a" stroke-width="1.3"/>
<text x="549.66" y="824.55" font-size="9.40">NLRP3</text>
<line x1="580.30" y1="821.25" x2="584.50" y2="821.25" stroke="#1a1a1a" stroke-width="1.3"/>
<text x="556.99" y="837.07" font-size="9.40">TLR3</text>
<line x1="580.30" y1="833.77" x2="584.50" y2="833.77" stroke="#1a1a1a" stroke-width="1.3"/>
<text x="531.52" y="849.59" font-size="9.40">TNFRSF1B</text>
<line x1="580.30" y1="846.29" x2="584.50" y2="846.29" stroke="#1a1a1a" stroke-width="1.3"/>
<text x="548.35" y="862.12" font-size="9.40">Casp11</text>
<line x1="580.30" y1="858.82" x2="584.50" y2="858.82" stroke="#1a1a1a" stroke-width="1.3"/>
<text x="552.86" y="874.64" font-size="9.40">Casp1</text>
<line x1="580.30" y1="871.34" x2="584.50" y2="871.34" stroke="#1a1a1a" stroke-width="1.3"/>
<text x="539.42" y="888.70" font-size="9.72">Replicate</text>
<text x="588.71" y="888.70" font-size="9.30">A</text>
<text x="601.37" y="888.70" font-size="9.30">B</text>
<text x="614.38" y="888.70" font-size="9.30">C</text>
<text x="627.39" y="888.70" font-size="9.30">D</text>
<text x="642.60" y="796.00" font-size="8.80" textLength="17.82" lengthAdjust="spacingAndGlyphs">F.C.</text>
<rect x="646.00" y="800.00" width="9.60" height="76.80" fill="url(#gl)" stroke="#111" stroke-width="1.6"/>
<text x="657.93" y="805.80" font-size="9.30">20</text>
<text x="657.70" y="825.40" font-size="9.30">15</text>
<text x="657.70" y="845.10" font-size="9.30">10</text>
<text x="658.03" y="864.50" font-size="9.30">5</text>
</svg></body></html>
